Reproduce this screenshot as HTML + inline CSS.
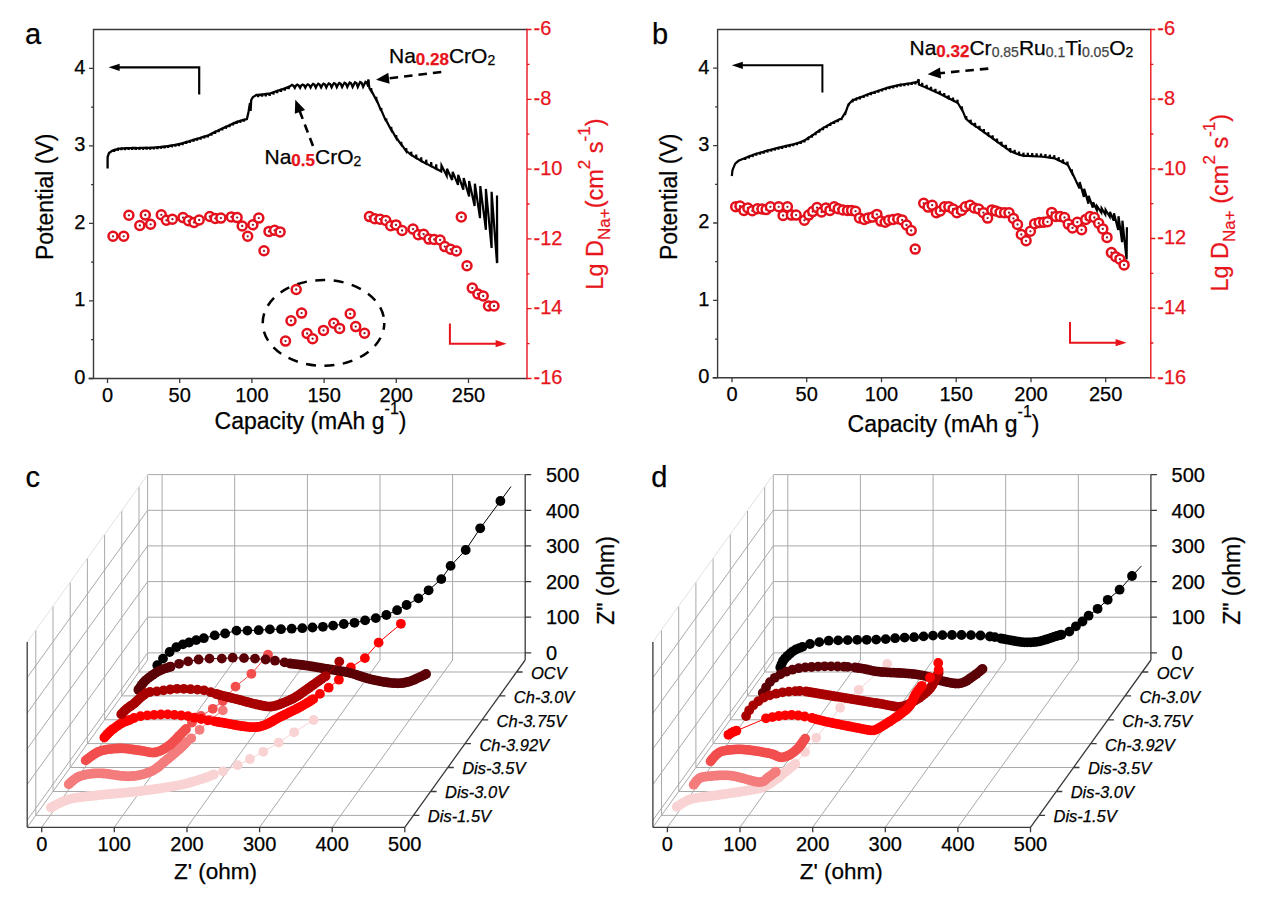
<!DOCTYPE html>
<html><head><meta charset="utf-8"><style>html,body{margin:0;padding:0;background:#fff;overflow:hidden}svg{display:block}text{stroke-width:0.25px}</style></head><body>
<svg width="1266" height="906" viewBox="0 0 1266 906" font-family="'Liberation Sans', sans-serif">
<rect width="1266" height="906" fill="#fff"/>
<path d="M92.8,29.5 H527 M93.5,29.5 V378.5 M88.5,378.5 H527" stroke="#3a3a3a" stroke-width="1.4" fill="none"/>
<path d="M527,28.8 V379.2" stroke="#e8141c" stroke-width="1.4"/>
<path d="M89,378.5 H93.5 M91,339.7 H93.5 M89,300.9 H93.5 M91,262.2 H93.5 M89,223.4 H93.5 M91,184.6 H93.5 M89,145.8 H93.5 M91,107.1 H93.5 M89,68.3 H93.5 " stroke="#3a3a3a" stroke-width="1.3"/>
<text x="85.3" y="383.9" text-anchor="end" font-size="20" stroke="#000">0</text>
<text x="85.3" y="306.3" text-anchor="end" font-size="20" stroke="#000">1</text>
<text x="85.3" y="228.8" text-anchor="end" font-size="20" stroke="#000">2</text>
<text x="85.3" y="151.2" text-anchor="end" font-size="20" stroke="#000">3</text>
<text x="85.3" y="73.7" text-anchor="end" font-size="20" stroke="#000">4</text>
<path d="M107.5,378.5 V383 M179.7,378.5 V383 M251.9,378.5 V383 M324.1,378.5 V383 M396.3,378.5 V383 M468.5,378.5 V383 " stroke="#3a3a3a" stroke-width="1.3"/>
<text x="107.5" y="401.5" text-anchor="middle" font-size="20" stroke="#000">0</text>
<text x="179.7" y="401.5" text-anchor="middle" font-size="20" stroke="#000">50</text>
<text x="251.9" y="401.5" text-anchor="middle" font-size="20" stroke="#000">100</text>
<text x="324.1" y="401.5" text-anchor="middle" font-size="20" stroke="#000">150</text>
<text x="396.3" y="401.5" text-anchor="middle" font-size="20" stroke="#000">200</text>
<text x="468.5" y="401.5" text-anchor="middle" font-size="20" stroke="#000">250</text>
<path d="M527,29.5 H531.5 M527,64.4 H529.5 M527,99.3 H531.5 M527,134.2 H529.5 M527,169.1 H531.5 M527,204 H529.5 M527,238.9 H531.5 M527,273.8 H529.5 M527,308.7 H531.5 M527,343.6 H529.5 M527,378.5 H531.5 " stroke="#e8141c" stroke-width="1.3"/>
<text x="533.5" y="35.2" font-size="20" fill="#e8141c" stroke="#e8141c">-6</text>
<text x="533.5" y="105" font-size="20" fill="#e8141c" stroke="#e8141c">-8</text>
<text x="533.5" y="174.8" font-size="20" fill="#e8141c" stroke="#e8141c">-10</text>
<text x="533.5" y="244.6" font-size="20" fill="#e8141c" stroke="#e8141c">-12</text>
<text x="533.5" y="314.4" font-size="20" fill="#e8141c" stroke="#e8141c">-14</text>
<text x="533.5" y="384.2" font-size="20" fill="#e8141c" stroke="#e8141c">-16</text>
<text x="25" y="43.6" font-size="29" stroke="#000">a</text>
<text transform="translate(53.3,196.8) rotate(-90)" text-anchor="middle" font-size="23" stroke="#000">Potential (V)</text>
<text x="310.5" y="428.7" text-anchor="middle" font-size="23" stroke="#000">Capacity (mAh g<tspan font-size="16" dy="-15">-1</tspan><tspan dy="15">)</tspan></text>
<text transform="translate(603,204.1) rotate(-90)" text-anchor="middle" font-size="23.5" fill="#e8141c" stroke="#e8141c">Lg D<tspan font-size="17" dy="7">Na+</tspan><tspan dy="-7">(cm</tspan><tspan font-size="17" dy="-13">2</tspan><tspan dy="13"> s</tspan><tspan font-size="17" dy="-13">-1</tspan><tspan dy="13">)</tspan></text>
<path d="M107.6,168.5 L107.6,157 L109,153 L112.6,150.6 L114,150.1 L114.2,151.9 L114.5,150.1 L117.6,148.9 L117.8,150.7 L118.1,148.9 L121.2,148.3 L121.4,150.1 L121.7,148.3 L124.8,148.2 L125,150 L125.3,148.2 L128.4,148.1 L128.6,149.9 L128.9,148.1 L132,148 L132.2,149.8 L132.5,148 L135.6,148 L135.8,149.8 L136.1,148 L139.2,147.9 L139.4,149.7 L139.7,147.9 L142.8,147.9 L143,149.7 L143.3,147.9 L146.4,147.8 L146.6,149.6 L146.9,147.8 L150,147.7 L150.2,149.5 L150.5,147.7 L153.6,147.6 L153.8,149.4 L154.1,147.6 L157.2,147.2 L157.4,149 L157.7,147.2 L160.8,146.9 L161,148.7 L161.3,146.9 L164.4,146.6 L164.6,148.4 L164.9,146.6 L168,146 L168.2,147.8 L168.5,146 L171.6,145.4 L171.8,147.2 L172.1,145.4 L175.2,144.8 L175.4,146.6 L175.7,144.8 L178.8,144.2 L179,146 L179.3,144.2 L182.4,143.2 L182.6,145 L182.9,143.2 L186,142.1 L186.2,143.9 L186.5,142.1 L189.6,141 L189.8,142.8 L190.1,141 L193.2,139.9 L193.4,141.7 L193.7,139.9 L196.8,138.8 L197,140.6 L197.3,138.8 L200.4,137.7 L200.6,139.5 L200.9,137.7 L204,136.6 L204.2,138.4 L204.5,136.6 L207.6,135.5 L207.8,137.3 L208.1,135.5 L211.2,133.8 L211.4,135.6 L211.7,133.8 L214.8,132 L215,133.8 L215.3,132 L218.4,130.3 L218.6,132.1 L218.9,130.3 L222,128.6 L222.2,130.4 L222.5,128.6 L225.6,126.9 L225.8,128.7 L226.1,126.9 L229.2,125.3 L229.4,127.1 L229.7,125.3 L232.8,123.6 L233,125.4 L233.3,123.6 L236.4,122.1 L236.6,123.9 L236.9,122.1 L240,120.9 L240.2,122.7 L240.5,120.9 L243.6,119.8 L243.8,121.6 L244.1,119.8 L246.9,119 L248.5,112 L250,103 L250.6,111 L251.2,100 L251.7,99.2 L253,97 L256.4,95 L258,94.9 L258.2,97.1 L258.5,94.9 L261.8,94.5 L262,96.7 L262.3,94.5 L265.6,94.1 L265.8,96.3 L266.1,94.1 L269.4,93.6 L269.6,95.8 L269.9,93.6 L273.2,92.3 L273.4,94.5 L273.7,92.3 L277,91 L277.2,93.2 L277.5,91 L280.8,89.7 L281,91.9 L281.3,89.7 L284.6,88.4 L284.8,90.6 L285.1,88.4 L288.4,87 L288.6,89.2 L288.9,87 L289.6,86.6 L290.6,85.9 L292,84.9 L293.4,85.6 L294.8,87.9 L295.8,85.8 L297.2,84.7 L298.6,85.4 L300.1,87.8 L301.1,85.7 L302.5,84.5 L303.9,85.2 L305.3,87.7 L306.3,85.6 L307.7,84.3 L309.1,85 L310.6,87.6 L311.6,85.6 L313,84 L314.4,84.7 L315.8,87.6 L316.8,85.5 L318.2,83.8 L319.6,84.5 L321.1,87.5 L322.1,85.4 L323.5,83.6 L324.9,84.3 L326.3,87.4 L327.3,85.3 L328.7,83.4 L330.1,84.1 L331.6,87.3 L332.6,85.2 L334,83.2 L335.4,83.9 L336.8,87.2 L337.8,85.1 L339.2,83 L340.6,83.7 L342.1,87.1 L343.1,85 L344.5,82.8 L345.9,83.5 L347.3,87 L348.3,84.9 L349.7,82.6 L351.1,83.3 L352.6,86.9 L353.6,84.9 L355,82.3 L356.4,83 L357.8,86.9 L358.8,84.8 L360.2,82.1 L361.6,82.8 L363.1,86.8 L364.1,84.7 L365.5,81.9 L366.9,82.6 L368.3,86.7 L368.3,79.6" fill="none" stroke="#000" stroke-width="2.3" stroke-linejoin="miter" stroke-linejoin="round"/>
<path d="M368.3,79.6 L369.4,88.2 L371,90.8 L371.2,88.2 L371.5,90.8 L376,99.5 L376.2,96.9 L376.5,99.5 L381,110.6 L381.2,108 L381.5,110.6 L386,121.1 L386.2,118.5 L386.5,121.1 L391,129.6 L391.2,127 L391.5,129.6 L396,137.8 L396.2,135.2 L396.5,137.8 L401,144.4 L401.2,141.8 L401.5,144.4 L406,151 L406.2,148.1 L406.5,151 L411,154.8 L411.2,151.7 L411.5,154.8 L416,158 L416.2,154.6 L416.5,158 L421,161 L421.2,157.4 L421.5,161 L426,163.6 L426.2,159.7 L426.5,163.6 L431,166.2 L431.2,162.1 L431.5,166.2 L436,168.8 L436.2,164.4 L436.5,168.8 L441.2,171.5 L441.5,165.5 L446.7,175.8 L447,168.7 L452.1,180 L452.7,171.9 L458,184.9 L458.2,174.8 L463.3,189.7 L463.7,178 L469.1,196.4 L469.1,180.9 L474.6,206.1 L474.9,183.7 L480,218.2 L480.3,186.1 L485.9,229.8 L485.9,188.9 L491.6,248 L491.6,191.8 L497,263.1 L497,195.4 L497.2,263.1" fill="none" stroke="#000" stroke-width="2.2" stroke-linejoin="miter" stroke-linejoin="round"/>
<text x="389" y="63.2" font-size="21" stroke="#000">Na<tspan font-weight="bold" fill="#e8141c" font-size="17" dy="2" stroke="#e8141c">0.28</tspan><tspan dy="-2">CrO</tspan><tspan font-size="14" dy="2">2</tspan></text>
<text x="264.5" y="163.8" font-size="21" stroke="#000">Na<tspan font-weight="bold" fill="#e8141c" font-size="17" dy="2" stroke="#e8141c">0.5</tspan><tspan dy="-2">CrO</tspan><tspan font-size="14" dy="2">2</tspan></text>
<path d="M441.3,72 L387.9,78.4" stroke="#000" stroke-width="2.6" stroke-dasharray="8.5,6" fill="none"/>
<path d="M376,79.8 L388.3,72.8 L389.6,83.7 Z" fill="#000"/>
<path d="M313,146 L299.6,110.9" stroke="#000" stroke-width="2.6" stroke-dasharray="8.5,6" fill="none"/>
<path d="M295.3,99.7 L305.1,109.9 L294.8,113.8 Z" fill="#000"/>
<path d="M199.2,94.5 V67.3 H116.6" stroke="#000" stroke-width="2.2" fill="none"/>
<path d="M108.6,67.3 L119.6,63.7 L119.6,70.9 Z" fill="#000"/>
<path d="M449.9,323.6 V343.7 H498.6" stroke="#e8141c" stroke-width="2.0" fill="none"/>
<path d="M506.6,343.7 L495.6,340.1 L495.6,347.3 Z" fill="#e8141c"/>
<ellipse cx="323.5" cy="322.9" rx="60.8" ry="42.9" fill="none" stroke="#000" stroke-width="2.5" stroke-dasharray="10,8.5" stroke-dashoffset="3"/>
<circle cx="113" cy="236.3" r="4.5" fill="#fff" stroke="#e4101c" stroke-width="2.5"/><circle cx="113" cy="236.3" r="1.15" fill="#8b1a2a"/>
<circle cx="123.7" cy="236.3" r="4.5" fill="#fff" stroke="#e4101c" stroke-width="2.5"/><circle cx="123.7" cy="236.3" r="1.15" fill="#8b1a2a"/>
<circle cx="128.9" cy="215.3" r="4.5" fill="#fff" stroke="#e4101c" stroke-width="2.5"/><circle cx="128.9" cy="215.3" r="1.15" fill="#8b1a2a"/>
<circle cx="139.8" cy="225.5" r="4.5" fill="#fff" stroke="#e4101c" stroke-width="2.5"/><circle cx="139.8" cy="225.5" r="1.15" fill="#8b1a2a"/>
<circle cx="145.3" cy="215" r="4.5" fill="#fff" stroke="#e4101c" stroke-width="2.5"/><circle cx="145.3" cy="215" r="1.15" fill="#8b1a2a"/>
<circle cx="150.6" cy="224.3" r="4.5" fill="#fff" stroke="#e4101c" stroke-width="2.5"/><circle cx="150.6" cy="224.3" r="1.15" fill="#8b1a2a"/>
<circle cx="161.3" cy="214.8" r="4.5" fill="#fff" stroke="#e4101c" stroke-width="2.5"/><circle cx="161.3" cy="214.8" r="1.15" fill="#8b1a2a"/>
<circle cx="166.4" cy="220.3" r="4.5" fill="#fff" stroke="#e4101c" stroke-width="2.5"/><circle cx="166.4" cy="220.3" r="1.15" fill="#8b1a2a"/>
<circle cx="172.4" cy="219.2" r="4.5" fill="#fff" stroke="#e4101c" stroke-width="2.5"/><circle cx="172.4" cy="219.2" r="1.15" fill="#8b1a2a"/>
<circle cx="183" cy="217.6" r="4.5" fill="#fff" stroke="#e4101c" stroke-width="2.5"/><circle cx="183" cy="217.6" r="1.15" fill="#8b1a2a"/>
<circle cx="188.5" cy="220.8" r="4.5" fill="#fff" stroke="#e4101c" stroke-width="2.5"/><circle cx="188.5" cy="220.8" r="1.15" fill="#8b1a2a"/>
<circle cx="194" cy="222.4" r="4.5" fill="#fff" stroke="#e4101c" stroke-width="2.5"/><circle cx="194" cy="222.4" r="1.15" fill="#8b1a2a"/>
<circle cx="199.2" cy="220" r="4.5" fill="#fff" stroke="#e4101c" stroke-width="2.5"/><circle cx="199.2" cy="220" r="1.15" fill="#8b1a2a"/>
<circle cx="209.8" cy="216.5" r="4.5" fill="#fff" stroke="#e4101c" stroke-width="2.5"/><circle cx="209.8" cy="216.5" r="1.15" fill="#8b1a2a"/>
<circle cx="215.3" cy="218.4" r="4.5" fill="#fff" stroke="#e4101c" stroke-width="2.5"/><circle cx="215.3" cy="218.4" r="1.15" fill="#8b1a2a"/>
<circle cx="220.9" cy="218.1" r="4.5" fill="#fff" stroke="#e4101c" stroke-width="2.5"/><circle cx="220.9" cy="218.1" r="1.15" fill="#8b1a2a"/>
<circle cx="231.4" cy="216.9" r="4.5" fill="#fff" stroke="#e4101c" stroke-width="2.5"/><circle cx="231.4" cy="216.9" r="1.15" fill="#8b1a2a"/>
<circle cx="237.1" cy="217.6" r="4.5" fill="#fff" stroke="#e4101c" stroke-width="2.5"/><circle cx="237.1" cy="217.6" r="1.15" fill="#8b1a2a"/>
<circle cx="242.2" cy="226" r="4.5" fill="#fff" stroke="#e4101c" stroke-width="2.5"/><circle cx="242.2" cy="226" r="1.15" fill="#8b1a2a"/>
<circle cx="247.7" cy="236.3" r="4.5" fill="#fff" stroke="#e4101c" stroke-width="2.5"/><circle cx="247.7" cy="236.3" r="1.15" fill="#8b1a2a"/>
<circle cx="252.9" cy="224.8" r="4.5" fill="#fff" stroke="#e4101c" stroke-width="2.5"/><circle cx="252.9" cy="224.8" r="1.15" fill="#8b1a2a"/>
<circle cx="258.8" cy="218.1" r="4.5" fill="#fff" stroke="#e4101c" stroke-width="2.5"/><circle cx="258.8" cy="218.1" r="1.15" fill="#8b1a2a"/>
<circle cx="264" cy="250.8" r="4.5" fill="#fff" stroke="#e4101c" stroke-width="2.5"/><circle cx="264" cy="250.8" r="1.15" fill="#8b1a2a"/>
<circle cx="269" cy="231.4" r="4.5" fill="#fff" stroke="#e4101c" stroke-width="2.5"/><circle cx="269" cy="231.4" r="1.15" fill="#8b1a2a"/>
<circle cx="274.6" cy="230.3" r="4.5" fill="#fff" stroke="#e4101c" stroke-width="2.5"/><circle cx="274.6" cy="230.3" r="1.15" fill="#8b1a2a"/>
<circle cx="280.1" cy="231.9" r="4.5" fill="#fff" stroke="#e4101c" stroke-width="2.5"/><circle cx="280.1" cy="231.9" r="1.15" fill="#8b1a2a"/>
<circle cx="285.5" cy="341.1" r="4.5" fill="#fff" stroke="#e4101c" stroke-width="2.5"/><circle cx="285.5" cy="341.1" r="1.15" fill="#8b1a2a"/>
<circle cx="291" cy="320.7" r="4.5" fill="#fff" stroke="#e4101c" stroke-width="2.5"/><circle cx="291" cy="320.7" r="1.15" fill="#8b1a2a"/>
<circle cx="296.2" cy="289.5" r="4.5" fill="#fff" stroke="#e4101c" stroke-width="2.5"/><circle cx="296.2" cy="289.5" r="1.15" fill="#8b1a2a"/>
<circle cx="301.6" cy="313.1" r="4.5" fill="#fff" stroke="#e4101c" stroke-width="2.5"/><circle cx="301.6" cy="313.1" r="1.15" fill="#8b1a2a"/>
<circle cx="307.1" cy="333.5" r="4.5" fill="#fff" stroke="#e4101c" stroke-width="2.5"/><circle cx="307.1" cy="333.5" r="1.15" fill="#8b1a2a"/>
<circle cx="312.6" cy="338.7" r="4.5" fill="#fff" stroke="#e4101c" stroke-width="2.5"/><circle cx="312.6" cy="338.7" r="1.15" fill="#8b1a2a"/>
<circle cx="323.5" cy="330.4" r="4.5" fill="#fff" stroke="#e4101c" stroke-width="2.5"/><circle cx="323.5" cy="330.4" r="1.15" fill="#8b1a2a"/>
<circle cx="333.8" cy="323.2" r="4.5" fill="#fff" stroke="#e4101c" stroke-width="2.5"/><circle cx="333.8" cy="323.2" r="1.15" fill="#8b1a2a"/>
<circle cx="339.6" cy="328.4" r="4.5" fill="#fff" stroke="#e4101c" stroke-width="2.5"/><circle cx="339.6" cy="328.4" r="1.15" fill="#8b1a2a"/>
<circle cx="350.2" cy="313.8" r="4.5" fill="#fff" stroke="#e4101c" stroke-width="2.5"/><circle cx="350.2" cy="313.8" r="1.15" fill="#8b1a2a"/>
<circle cx="355.7" cy="326.6" r="4.5" fill="#fff" stroke="#e4101c" stroke-width="2.5"/><circle cx="355.7" cy="326.6" r="1.15" fill="#8b1a2a"/>
<circle cx="364.5" cy="333.2" r="4.5" fill="#fff" stroke="#e4101c" stroke-width="2.5"/><circle cx="364.5" cy="333.2" r="1.15" fill="#8b1a2a"/>
<circle cx="369.5" cy="216.6" r="4.5" fill="#fff" stroke="#e4101c" stroke-width="2.5"/><circle cx="369.5" cy="216.6" r="1.15" fill="#8b1a2a"/>
<circle cx="374.8" cy="218.8" r="4.5" fill="#fff" stroke="#e4101c" stroke-width="2.5"/><circle cx="374.8" cy="218.8" r="1.15" fill="#8b1a2a"/>
<circle cx="380.1" cy="219.2" r="4.5" fill="#fff" stroke="#e4101c" stroke-width="2.5"/><circle cx="380.1" cy="219.2" r="1.15" fill="#8b1a2a"/>
<circle cx="385.8" cy="220.5" r="4.5" fill="#fff" stroke="#e4101c" stroke-width="2.5"/><circle cx="385.8" cy="220.5" r="1.15" fill="#8b1a2a"/>
<circle cx="390.7" cy="225.8" r="4.5" fill="#fff" stroke="#e4101c" stroke-width="2.5"/><circle cx="390.7" cy="225.8" r="1.15" fill="#8b1a2a"/>
<circle cx="396" cy="224.9" r="4.5" fill="#fff" stroke="#e4101c" stroke-width="2.5"/><circle cx="396" cy="224.9" r="1.15" fill="#8b1a2a"/>
<circle cx="402.1" cy="230.5" r="4.5" fill="#fff" stroke="#e4101c" stroke-width="2.5"/><circle cx="402.1" cy="230.5" r="1.15" fill="#8b1a2a"/>
<circle cx="413" cy="229.1" r="4.5" fill="#fff" stroke="#e4101c" stroke-width="2.5"/><circle cx="413" cy="229.1" r="1.15" fill="#8b1a2a"/>
<circle cx="418.3" cy="234.7" r="4.5" fill="#fff" stroke="#e4101c" stroke-width="2.5"/><circle cx="418.3" cy="234.7" r="1.15" fill="#8b1a2a"/>
<circle cx="423.6" cy="234.2" r="4.5" fill="#fff" stroke="#e4101c" stroke-width="2.5"/><circle cx="423.6" cy="234.2" r="1.15" fill="#8b1a2a"/>
<circle cx="428.9" cy="239.1" r="4.5" fill="#fff" stroke="#e4101c" stroke-width="2.5"/><circle cx="428.9" cy="239.1" r="1.15" fill="#8b1a2a"/>
<circle cx="434.2" cy="239.5" r="4.5" fill="#fff" stroke="#e4101c" stroke-width="2.5"/><circle cx="434.2" cy="239.5" r="1.15" fill="#8b1a2a"/>
<circle cx="440.1" cy="240" r="4.5" fill="#fff" stroke="#e4101c" stroke-width="2.5"/><circle cx="440.1" cy="240" r="1.15" fill="#8b1a2a"/>
<circle cx="444.8" cy="246.6" r="4.5" fill="#fff" stroke="#e4101c" stroke-width="2.5"/><circle cx="444.8" cy="246.6" r="1.15" fill="#8b1a2a"/>
<circle cx="450.7" cy="249.3" r="4.5" fill="#fff" stroke="#e4101c" stroke-width="2.5"/><circle cx="450.7" cy="249.3" r="1.15" fill="#8b1a2a"/>
<circle cx="456.4" cy="251" r="4.5" fill="#fff" stroke="#e4101c" stroke-width="2.5"/><circle cx="456.4" cy="251" r="1.15" fill="#8b1a2a"/>
<circle cx="461.3" cy="217" r="4.5" fill="#fff" stroke="#e4101c" stroke-width="2.5"/><circle cx="461.3" cy="217" r="1.15" fill="#8b1a2a"/>
<circle cx="467" cy="265.8" r="4.5" fill="#fff" stroke="#e4101c" stroke-width="2.5"/><circle cx="467" cy="265.8" r="1.15" fill="#8b1a2a"/>
<circle cx="472.3" cy="288.1" r="4.5" fill="#fff" stroke="#e4101c" stroke-width="2.5"/><circle cx="472.3" cy="288.1" r="1.15" fill="#8b1a2a"/>
<circle cx="477.9" cy="294" r="4.5" fill="#fff" stroke="#e4101c" stroke-width="2.5"/><circle cx="477.9" cy="294" r="1.15" fill="#8b1a2a"/>
<circle cx="483.2" cy="296" r="4.5" fill="#fff" stroke="#e4101c" stroke-width="2.5"/><circle cx="483.2" cy="296" r="1.15" fill="#8b1a2a"/>
<circle cx="488.5" cy="306" r="4.5" fill="#fff" stroke="#e4101c" stroke-width="2.5"/><circle cx="488.5" cy="306" r="1.15" fill="#8b1a2a"/>
<circle cx="494" cy="306" r="4.5" fill="#fff" stroke="#e4101c" stroke-width="2.5"/><circle cx="494" cy="306" r="1.15" fill="#8b1a2a"/>
<path d="M716.9,29.5 H1150.8 M717.6,29.5 V377.8 M712.6,377.8 H1150.8" stroke="#3a3a3a" stroke-width="1.4" fill="none"/>
<path d="M1150.8,28.8 V378.5" stroke="#e8141c" stroke-width="1.4"/>
<path d="M713.1,377.8 H717.6 M715.1,339.1 H717.6 M713.1,300.4 H717.6 M715.1,261.7 H717.6 M713.1,223 H717.6 M715.1,184.3 H717.6 M713.1,145.6 H717.6 M715.1,106.9 H717.6 M713.1,68.2 H717.6 " stroke="#3a3a3a" stroke-width="1.3"/>
<text x="709.4" y="383.2" text-anchor="end" font-size="20" stroke="#000">0</text>
<text x="709.4" y="305.8" text-anchor="end" font-size="20" stroke="#000">1</text>
<text x="709.4" y="228.4" text-anchor="end" font-size="20" stroke="#000">2</text>
<text x="709.4" y="151" text-anchor="end" font-size="20" stroke="#000">3</text>
<text x="709.4" y="73.6" text-anchor="end" font-size="20" stroke="#000">4</text>
<path d="M732,377.8 V382.3 M806.7,377.8 V382.3 M881.5,377.8 V382.3 M956.2,377.8 V382.3 M1031,377.8 V382.3 M1105.7,377.8 V382.3 " stroke="#3a3a3a" stroke-width="1.3"/>
<text x="732" y="401" text-anchor="middle" font-size="20" stroke="#000">0</text>
<text x="806.7" y="401" text-anchor="middle" font-size="20" stroke="#000">50</text>
<text x="881.5" y="401" text-anchor="middle" font-size="20" stroke="#000">100</text>
<text x="956.2" y="401" text-anchor="middle" font-size="20" stroke="#000">150</text>
<text x="1031" y="401" text-anchor="middle" font-size="20" stroke="#000">200</text>
<text x="1105.7" y="401" text-anchor="middle" font-size="20" stroke="#000">250</text>
<path d="M1150.8,29.5 H1155.3 M1150.8,64.3 H1153.3 M1150.8,99.2 H1155.3 M1150.8,134 H1153.3 M1150.8,168.8 H1155.3 M1150.8,203.6 H1153.3 M1150.8,238.5 H1155.3 M1150.8,273.3 H1153.3 M1150.8,308.1 H1155.3 M1150.8,343 H1153.3 M1150.8,377.8 H1155.3 " stroke="#e8141c" stroke-width="1.3"/>
<text x="1157.3" y="35.2" font-size="20" fill="#e8141c" stroke="#e8141c">-6</text>
<text x="1157.3" y="104.9" font-size="20" fill="#e8141c" stroke="#e8141c">-8</text>
<text x="1157.3" y="174.5" font-size="20" fill="#e8141c" stroke="#e8141c">-10</text>
<text x="1157.3" y="244.2" font-size="20" fill="#e8141c" stroke="#e8141c">-12</text>
<text x="1157.3" y="313.8" font-size="20" fill="#e8141c" stroke="#e8141c">-14</text>
<text x="1157.3" y="383.5" font-size="20" fill="#e8141c" stroke="#e8141c">-16</text>
<text x="652" y="43.6" font-size="29" stroke="#000">b</text>
<text transform="translate(677.3,196.8) rotate(-90)" text-anchor="middle" font-size="23" stroke="#000">Potential (V)</text>
<text x="943.5" y="432" text-anchor="middle" font-size="23" stroke="#000">Capacity (mAh g<tspan font-size="16" dy="-15">-1</tspan><tspan dy="15">)</tspan></text>
<text transform="translate(1228,202.7) rotate(-90)" text-anchor="middle" font-size="23.5" fill="#e8141c" stroke="#e8141c">Lg D<tspan font-size="17" dy="7">Na+</tspan><tspan dy="-7"> (cm</tspan><tspan font-size="17" dy="-13">2</tspan><tspan dy="13"> s</tspan><tspan font-size="17" dy="-13">-1</tspan><tspan dy="13">)</tspan></text>
<path d="M731.8,176 L732.5,170 L735.2,163.6 L738.5,160.8 L742.7,158.9 L745,158 L745.2,159.9 L745.5,158 L748.7,156.5 L748.9,158.4 L749.2,156.5 L752.4,155.1 L752.6,157 L752.9,155.1 L756.1,153.8 L756.3,155.7 L756.6,153.8 L759.8,152.7 L760,154.6 L760.3,152.7 L763.5,151.7 L763.7,153.6 L764,151.7 L767.2,150.6 L767.4,152.5 L767.7,150.6 L770.9,149.6 L771.1,151.5 L771.4,149.6 L774.6,148.6 L774.8,150.5 L775.1,148.6 L778.3,147.7 L778.5,149.6 L778.8,147.7 L782,146.9 L782.2,148.8 L782.5,146.9 L785.7,146 L785.9,147.9 L786.2,146 L789.4,145.2 L789.6,147.1 L789.9,145.2 L793.1,144.3 L793.3,146.2 L793.6,144.3 L796.8,143.3 L797,145.2 L797.3,143.3 L800.5,142 L800.7,143.9 L801,142 L804.2,140.4 L804.4,142.3 L804.7,140.4 L807.9,138.1 L808.1,140 L808.4,138.1 L811.6,135.8 L811.8,137.7 L812.1,135.8 L815.3,133.2 L815.5,135.1 L815.8,133.2 L819,130.6 L819.2,132.5 L819.5,130.6 L822.7,128.2 L822.9,130.1 L823.2,128.2 L826.4,126.1 L826.6,128 L826.9,126.1 L830.1,123.9 L830.3,125.8 L830.6,123.9 L833.8,122 L834,123.9 L834.3,122 L837.5,120.2 L837.7,122.1 L838,120.2 L841.2,118.3 L841.4,120.2 L841.7,118.3 L844.9,113.1 L845.1,115 L845.4,113.1 L848.6,103.8 L848.8,105.7 L849.1,103.8 L852.3,100.4 L852.5,102.3 L852.8,100.4 L856,98.8 L856.2,100.7 L856.5,98.8 L859.7,97.4 L859.9,99.3 L860.2,97.4 L863.4,96 L863.6,97.9 L863.9,96 L867.1,94.6 L867.3,96.5 L867.6,94.6 L870.8,93.2 L871,95.1 L871.3,93.2 L874.5,92 L874.7,93.9 L875,92 L878.2,90.7 L878.4,92.6 L878.7,90.7 L881.9,89.5 L882.1,91.4 L882.4,89.5 L885.6,88.2 L885.8,90.1 L886.1,88.2 L889.3,87.2 L889.5,89.1 L889.8,87.2 L893,86.4 L893.2,88.3 L893.5,86.4 L896.7,85.5 L896.9,87.4 L897.2,85.5 L900.4,84.7 L900.6,86.6 L900.9,84.7 L904.1,84.2 L904.3,86.1 L904.6,84.2 L907.8,83.6 L908,85.5 L908.3,83.6 L911.5,83 L911.7,84.9 L912,83 L915.2,82.4 L915.4,84.3 L915.7,82.4 L917.2,82.1 L918.7,79.2" fill="none" stroke="#000" stroke-width="2.2" stroke-linejoin="miter" stroke-linejoin="round"/>
<path d="M918.7,79.2 L918.9,84.5 L922,85.9 L922.2,82.9 L922.5,85.9 L926.4,87.8 L926.6,84.8 L926.9,87.8 L930.8,89.8 L931,86.8 L931.3,89.8 L935.2,91.8 L935.4,88.8 L935.7,91.8 L939.6,93.8 L939.8,90.8 L940.1,93.8 L944,96 L944.2,93 L944.5,96 L948.4,98.3 L948.6,95.3 L948.9,98.3 L952.8,100.5 L953,97.5 L953.3,100.5 L957.2,102.7 L957.4,99.7 L957.7,102.7 L961.6,109.3 L961.8,106.3 L962.1,109.3 L966,119.2 L966.2,116.2 L966.5,119.2 L970.4,122.7 L970.6,119.7 L970.9,122.7 L974.8,125.8 L975,122.8 L975.3,125.8 L979.2,128.9 L979.4,125.9 L979.7,128.9 L983.6,132 L983.8,129 L984.1,132 L988,135.2 L988.2,132.2 L988.5,135.2 L992.4,138.4 L992.6,135.4 L992.9,138.4 L996.8,141.5 L997,138.5 L997.3,141.5 L1001.2,144.7 L1001.4,141.7 L1001.7,144.7 L1005.6,147.9 L1005.8,144.9 L1006.1,147.9 L1010,151.1 L1010.2,148.1 L1010.5,151.1 L1014.4,152.9 L1014.6,149.9 L1014.9,152.9 L1018.8,154.6 L1019,151.6 L1019.3,154.6 L1023.2,155.7 L1023.4,152.7 L1023.7,155.7 L1027.6,155.9 L1027.8,152.9 L1028.1,155.9 L1032,156.1 L1032.2,153.1 L1032.5,156.1 L1036.4,156.3 L1036.6,153.3 L1036.9,156.3 L1040.8,156.6 L1041,153.6 L1041.3,156.6 L1045.2,157.1 L1045.4,154.1 L1045.7,157.1 L1049.6,157.7 L1049.8,154.7 L1050.1,157.7 L1054,158.2 L1054.2,155.2 L1054.5,158.2 L1058.4,160.2 L1058.6,157.2 L1058.9,160.2 L1062.8,162.4 L1063,159.4 L1063.3,162.4 L1067.2,164.6 L1067.4,161.6 L1067.7,164.6 L1071.6,172.4 L1071.8,169.4 L1072.1,172.4 L1079.4,188.4 L1079.7,182 L1083.9,196.9 L1084.2,188.9 L1088.4,203.6 L1088.7,195.9 L1092.8,207.6 L1093.1,202.3 L1096.8,210 L1097.1,206.3 L1101.3,212.5 L1101.6,208.3 L1105.3,214.5 L1105.6,209.8 L1109.7,216.7 L1110,211.8 L1113.7,220.7 L1114,213.3 L1118.2,230 L1118.5,216.2 L1122.1,242.2 L1122.4,220.7 L1126.6,259.4 L1126.9,227.2 L1126.6,259.4" fill="none" stroke="#000" stroke-width="2.2" stroke-linejoin="miter" stroke-linejoin="round"/>
<text x="909.5" y="55.4" font-size="21" stroke="#000">Na<tspan font-weight="bold" fill="#e8141c" font-size="17" dy="2" stroke="#e8141c">0.32</tspan><tspan dy="-2">Cr</tspan><tspan font-size="14" dy="2" fill="#444" stroke="#444">0.85</tspan><tspan dy="-2">Ru</tspan><tspan font-size="14" dy="2" fill="#444" stroke="#444">0.1</tspan><tspan dy="-2">Ti</tspan><tspan font-size="14" dy="2" fill="#444" stroke="#444">0.05</tspan><tspan dy="-2">O</tspan><tspan font-size="14" dy="2">2</tspan></text>
<path d="M988.3,68.6 L939.5,73.2" stroke="#000" stroke-width="2.6" stroke-dasharray="8.5,6" fill="none"/>
<path d="M927.6,74.3 L940,67.6 L941.1,78.6 Z" fill="#000"/>
<path d="M822.4,92.6 V65.3 H739.8" stroke="#000" stroke-width="2.0" fill="none"/>
<path d="M731.8,65.3 L742.8,61.7 L742.8,68.9 Z" fill="#000"/>
<path d="M1070,322.1 V342.7 H1118.6" stroke="#e8141c" stroke-width="2.0" fill="none"/>
<path d="M1126.6,342.7 L1115.6,339.1 L1115.6,346.3 Z" fill="#e8141c"/>
<circle cx="735.7" cy="206.8" r="4.5" fill="#fff" stroke="#e4101c" stroke-width="2.5"/><circle cx="735.7" cy="206.8" r="1.15" fill="#8b1a2a"/>
<circle cx="740" cy="206.1" r="4.5" fill="#fff" stroke="#e4101c" stroke-width="2.5"/><circle cx="740" cy="206.1" r="1.15" fill="#8b1a2a"/>
<circle cx="744" cy="210.4" r="4.5" fill="#fff" stroke="#e4101c" stroke-width="2.5"/><circle cx="744" cy="210.4" r="1.15" fill="#8b1a2a"/>
<circle cx="747.9" cy="208" r="4.5" fill="#fff" stroke="#e4101c" stroke-width="2.5"/><circle cx="747.9" cy="208" r="1.15" fill="#8b1a2a"/>
<circle cx="752.3" cy="210.8" r="4.5" fill="#fff" stroke="#e4101c" stroke-width="2.5"/><circle cx="752.3" cy="210.8" r="1.15" fill="#8b1a2a"/>
<circle cx="757.4" cy="208.8" r="4.5" fill="#fff" stroke="#e4101c" stroke-width="2.5"/><circle cx="757.4" cy="208.8" r="1.15" fill="#8b1a2a"/>
<circle cx="762" cy="209" r="4.5" fill="#fff" stroke="#e4101c" stroke-width="2.5"/><circle cx="762" cy="209" r="1.15" fill="#8b1a2a"/>
<circle cx="766.1" cy="209.6" r="4.5" fill="#fff" stroke="#e4101c" stroke-width="2.5"/><circle cx="766.1" cy="209.6" r="1.15" fill="#8b1a2a"/>
<circle cx="770.4" cy="206.8" r="4.5" fill="#fff" stroke="#e4101c" stroke-width="2.5"/><circle cx="770.4" cy="206.8" r="1.15" fill="#8b1a2a"/>
<circle cx="778.7" cy="206.8" r="4.5" fill="#fff" stroke="#e4101c" stroke-width="2.5"/><circle cx="778.7" cy="206.8" r="1.15" fill="#8b1a2a"/>
<circle cx="783.1" cy="215.5" r="4.5" fill="#fff" stroke="#e4101c" stroke-width="2.5"/><circle cx="783.1" cy="215.5" r="1.15" fill="#8b1a2a"/>
<circle cx="787.4" cy="206.8" r="4.5" fill="#fff" stroke="#e4101c" stroke-width="2.5"/><circle cx="787.4" cy="206.8" r="1.15" fill="#8b1a2a"/>
<circle cx="791.4" cy="215.1" r="4.5" fill="#fff" stroke="#e4101c" stroke-width="2.5"/><circle cx="791.4" cy="215.1" r="1.15" fill="#8b1a2a"/>
<circle cx="796.1" cy="215.1" r="4.5" fill="#fff" stroke="#e4101c" stroke-width="2.5"/><circle cx="796.1" cy="215.1" r="1.15" fill="#8b1a2a"/>
<circle cx="804.4" cy="220.3" r="4.5" fill="#fff" stroke="#e4101c" stroke-width="2.5"/><circle cx="804.4" cy="220.3" r="1.15" fill="#8b1a2a"/>
<circle cx="808.7" cy="215.1" r="4.5" fill="#fff" stroke="#e4101c" stroke-width="2.5"/><circle cx="808.7" cy="215.1" r="1.15" fill="#8b1a2a"/>
<circle cx="812.7" cy="211.6" r="4.5" fill="#fff" stroke="#e4101c" stroke-width="2.5"/><circle cx="812.7" cy="211.6" r="1.15" fill="#8b1a2a"/>
<circle cx="817" cy="207.6" r="4.5" fill="#fff" stroke="#e4101c" stroke-width="2.5"/><circle cx="817" cy="207.6" r="1.15" fill="#8b1a2a"/>
<circle cx="821.6" cy="212" r="4.5" fill="#fff" stroke="#e4101c" stroke-width="2.5"/><circle cx="821.6" cy="212" r="1.15" fill="#8b1a2a"/>
<circle cx="825.9" cy="208" r="4.5" fill="#fff" stroke="#e4101c" stroke-width="2.5"/><circle cx="825.9" cy="208" r="1.15" fill="#8b1a2a"/>
<circle cx="829.9" cy="210.4" r="4.5" fill="#fff" stroke="#e4101c" stroke-width="2.5"/><circle cx="829.9" cy="210.4" r="1.15" fill="#8b1a2a"/>
<circle cx="834.2" cy="206.8" r="4.5" fill="#fff" stroke="#e4101c" stroke-width="2.5"/><circle cx="834.2" cy="206.8" r="1.15" fill="#8b1a2a"/>
<circle cx="838.2" cy="208.8" r="4.5" fill="#fff" stroke="#e4101c" stroke-width="2.5"/><circle cx="838.2" cy="208.8" r="1.15" fill="#8b1a2a"/>
<circle cx="842.9" cy="210" r="4.5" fill="#fff" stroke="#e4101c" stroke-width="2.5"/><circle cx="842.9" cy="210" r="1.15" fill="#8b1a2a"/>
<circle cx="847.6" cy="210.4" r="4.5" fill="#fff" stroke="#e4101c" stroke-width="2.5"/><circle cx="847.6" cy="210.4" r="1.15" fill="#8b1a2a"/>
<circle cx="851.6" cy="210.4" r="4.5" fill="#fff" stroke="#e4101c" stroke-width="2.5"/><circle cx="851.6" cy="210.4" r="1.15" fill="#8b1a2a"/>
<circle cx="855.5" cy="211.2" r="4.5" fill="#fff" stroke="#e4101c" stroke-width="2.5"/><circle cx="855.5" cy="211.2" r="1.15" fill="#8b1a2a"/>
<circle cx="859.5" cy="217.9" r="4.5" fill="#fff" stroke="#e4101c" stroke-width="2.5"/><circle cx="859.5" cy="217.9" r="1.15" fill="#8b1a2a"/>
<circle cx="864.2" cy="219.5" r="4.5" fill="#fff" stroke="#e4101c" stroke-width="2.5"/><circle cx="864.2" cy="219.5" r="1.15" fill="#8b1a2a"/>
<circle cx="868.2" cy="217.9" r="4.5" fill="#fff" stroke="#e4101c" stroke-width="2.5"/><circle cx="868.2" cy="217.9" r="1.15" fill="#8b1a2a"/>
<circle cx="872.5" cy="217.1" r="4.5" fill="#fff" stroke="#e4101c" stroke-width="2.5"/><circle cx="872.5" cy="217.1" r="1.15" fill="#8b1a2a"/>
<circle cx="876.9" cy="214.4" r="4.5" fill="#fff" stroke="#e4101c" stroke-width="2.5"/><circle cx="876.9" cy="214.4" r="1.15" fill="#8b1a2a"/>
<circle cx="880.8" cy="221.1" r="4.5" fill="#fff" stroke="#e4101c" stroke-width="2.5"/><circle cx="880.8" cy="221.1" r="1.15" fill="#8b1a2a"/>
<circle cx="885.2" cy="222.3" r="4.5" fill="#fff" stroke="#e4101c" stroke-width="2.5"/><circle cx="885.2" cy="222.3" r="1.15" fill="#8b1a2a"/>
<circle cx="888.7" cy="220.3" r="4.5" fill="#fff" stroke="#e4101c" stroke-width="2.5"/><circle cx="888.7" cy="220.3" r="1.15" fill="#8b1a2a"/>
<circle cx="893.1" cy="219.5" r="4.5" fill="#fff" stroke="#e4101c" stroke-width="2.5"/><circle cx="893.1" cy="219.5" r="1.15" fill="#8b1a2a"/>
<circle cx="897.8" cy="218.7" r="4.5" fill="#fff" stroke="#e4101c" stroke-width="2.5"/><circle cx="897.8" cy="218.7" r="1.15" fill="#8b1a2a"/>
<circle cx="902.1" cy="219.9" r="4.5" fill="#fff" stroke="#e4101c" stroke-width="2.5"/><circle cx="902.1" cy="219.9" r="1.15" fill="#8b1a2a"/>
<circle cx="906.5" cy="225" r="4.5" fill="#fff" stroke="#e4101c" stroke-width="2.5"/><circle cx="906.5" cy="225" r="1.15" fill="#8b1a2a"/>
<circle cx="911.2" cy="230.5" r="4.5" fill="#fff" stroke="#e4101c" stroke-width="2.5"/><circle cx="911.2" cy="230.5" r="1.15" fill="#8b1a2a"/>
<circle cx="915.2" cy="249.1" r="4.5" fill="#fff" stroke="#e4101c" stroke-width="2.5"/><circle cx="915.2" cy="249.1" r="1.15" fill="#8b1a2a"/>
<circle cx="923.7" cy="203.3" r="4.5" fill="#fff" stroke="#e4101c" stroke-width="2.5"/><circle cx="923.7" cy="203.3" r="1.15" fill="#8b1a2a"/>
<circle cx="928.1" cy="207.1" r="4.5" fill="#fff" stroke="#e4101c" stroke-width="2.5"/><circle cx="928.1" cy="207.1" r="1.15" fill="#8b1a2a"/>
<circle cx="932.2" cy="205.2" r="4.5" fill="#fff" stroke="#e4101c" stroke-width="2.5"/><circle cx="932.2" cy="205.2" r="1.15" fill="#8b1a2a"/>
<circle cx="936.4" cy="212.7" r="4.5" fill="#fff" stroke="#e4101c" stroke-width="2.5"/><circle cx="936.4" cy="212.7" r="1.15" fill="#8b1a2a"/>
<circle cx="940.2" cy="210.9" r="4.5" fill="#fff" stroke="#e4101c" stroke-width="2.5"/><circle cx="940.2" cy="210.9" r="1.15" fill="#8b1a2a"/>
<circle cx="944.5" cy="206.7" r="4.5" fill="#fff" stroke="#e4101c" stroke-width="2.5"/><circle cx="944.5" cy="206.7" r="1.15" fill="#8b1a2a"/>
<circle cx="948.9" cy="206.7" r="4.5" fill="#fff" stroke="#e4101c" stroke-width="2.5"/><circle cx="948.9" cy="206.7" r="1.15" fill="#8b1a2a"/>
<circle cx="953.1" cy="209" r="4.5" fill="#fff" stroke="#e4101c" stroke-width="2.5"/><circle cx="953.1" cy="209" r="1.15" fill="#8b1a2a"/>
<circle cx="956.9" cy="212.7" r="4.5" fill="#fff" stroke="#e4101c" stroke-width="2.5"/><circle cx="956.9" cy="212.7" r="1.15" fill="#8b1a2a"/>
<circle cx="961.6" cy="210.5" r="4.5" fill="#fff" stroke="#e4101c" stroke-width="2.5"/><circle cx="961.6" cy="210.5" r="1.15" fill="#8b1a2a"/>
<circle cx="965.4" cy="206.7" r="4.5" fill="#fff" stroke="#e4101c" stroke-width="2.5"/><circle cx="965.4" cy="206.7" r="1.15" fill="#8b1a2a"/>
<circle cx="970.1" cy="205.2" r="4.5" fill="#fff" stroke="#e4101c" stroke-width="2.5"/><circle cx="970.1" cy="205.2" r="1.15" fill="#8b1a2a"/>
<circle cx="974.3" cy="208" r="4.5" fill="#fff" stroke="#e4101c" stroke-width="2.5"/><circle cx="974.3" cy="208" r="1.15" fill="#8b1a2a"/>
<circle cx="978.7" cy="209" r="4.5" fill="#fff" stroke="#e4101c" stroke-width="2.5"/><circle cx="978.7" cy="209" r="1.15" fill="#8b1a2a"/>
<circle cx="983.4" cy="212.7" r="4.5" fill="#fff" stroke="#e4101c" stroke-width="2.5"/><circle cx="983.4" cy="212.7" r="1.15" fill="#8b1a2a"/>
<circle cx="987.6" cy="218.1" r="4.5" fill="#fff" stroke="#e4101c" stroke-width="2.5"/><circle cx="987.6" cy="218.1" r="1.15" fill="#8b1a2a"/>
<circle cx="991.9" cy="209.9" r="4.5" fill="#fff" stroke="#e4101c" stroke-width="2.5"/><circle cx="991.9" cy="209.9" r="1.15" fill="#8b1a2a"/>
<circle cx="995.7" cy="210.9" r="4.5" fill="#fff" stroke="#e4101c" stroke-width="2.5"/><circle cx="995.7" cy="210.9" r="1.15" fill="#8b1a2a"/>
<circle cx="1000.1" cy="212.4" r="4.5" fill="#fff" stroke="#e4101c" stroke-width="2.5"/><circle cx="1000.1" cy="212.4" r="1.15" fill="#8b1a2a"/>
<circle cx="1004.6" cy="212.7" r="4.5" fill="#fff" stroke="#e4101c" stroke-width="2.5"/><circle cx="1004.6" cy="212.7" r="1.15" fill="#8b1a2a"/>
<circle cx="1009" cy="212.7" r="4.5" fill="#fff" stroke="#e4101c" stroke-width="2.5"/><circle cx="1009" cy="212.7" r="1.15" fill="#8b1a2a"/>
<circle cx="1013.4" cy="218.4" r="4.5" fill="#fff" stroke="#e4101c" stroke-width="2.5"/><circle cx="1013.4" cy="218.4" r="1.15" fill="#8b1a2a"/>
<circle cx="1017.5" cy="224.5" r="4.5" fill="#fff" stroke="#e4101c" stroke-width="2.5"/><circle cx="1017.5" cy="224.5" r="1.15" fill="#8b1a2a"/>
<circle cx="1021.3" cy="234.5" r="4.5" fill="#fff" stroke="#e4101c" stroke-width="2.5"/><circle cx="1021.3" cy="234.5" r="1.15" fill="#8b1a2a"/>
<circle cx="1026.1" cy="240.8" r="4.5" fill="#fff" stroke="#e4101c" stroke-width="2.5"/><circle cx="1026.1" cy="240.8" r="1.15" fill="#8b1a2a"/>
<circle cx="1030.4" cy="231.3" r="4.5" fill="#fff" stroke="#e4101c" stroke-width="2.5"/><circle cx="1030.4" cy="231.3" r="1.15" fill="#8b1a2a"/>
<circle cx="1034.6" cy="223.7" r="4.5" fill="#fff" stroke="#e4101c" stroke-width="2.5"/><circle cx="1034.6" cy="223.7" r="1.15" fill="#8b1a2a"/>
<circle cx="1039.3" cy="222.6" r="4.5" fill="#fff" stroke="#e4101c" stroke-width="2.5"/><circle cx="1039.3" cy="222.6" r="1.15" fill="#8b1a2a"/>
<circle cx="1043.7" cy="222.2" r="4.5" fill="#fff" stroke="#e4101c" stroke-width="2.5"/><circle cx="1043.7" cy="222.2" r="1.15" fill="#8b1a2a"/>
<circle cx="1047.5" cy="221.8" r="4.5" fill="#fff" stroke="#e4101c" stroke-width="2.5"/><circle cx="1047.5" cy="221.8" r="1.15" fill="#8b1a2a"/>
<circle cx="1051.7" cy="212.4" r="4.5" fill="#fff" stroke="#e4101c" stroke-width="2.5"/><circle cx="1051.7" cy="212.4" r="1.15" fill="#8b1a2a"/>
<circle cx="1055.8" cy="216.5" r="4.5" fill="#fff" stroke="#e4101c" stroke-width="2.5"/><circle cx="1055.8" cy="216.5" r="1.15" fill="#8b1a2a"/>
<circle cx="1060.2" cy="216.5" r="4.5" fill="#fff" stroke="#e4101c" stroke-width="2.5"/><circle cx="1060.2" cy="216.5" r="1.15" fill="#8b1a2a"/>
<circle cx="1064.5" cy="217.5" r="4.5" fill="#fff" stroke="#e4101c" stroke-width="2.5"/><circle cx="1064.5" cy="217.5" r="1.15" fill="#8b1a2a"/>
<circle cx="1068.3" cy="224.1" r="4.5" fill="#fff" stroke="#e4101c" stroke-width="2.5"/><circle cx="1068.3" cy="224.1" r="1.15" fill="#8b1a2a"/>
<circle cx="1072.5" cy="227.9" r="4.5" fill="#fff" stroke="#e4101c" stroke-width="2.5"/><circle cx="1072.5" cy="227.9" r="1.15" fill="#8b1a2a"/>
<circle cx="1077.3" cy="222.2" r="4.5" fill="#fff" stroke="#e4101c" stroke-width="2.5"/><circle cx="1077.3" cy="222.2" r="1.15" fill="#8b1a2a"/>
<circle cx="1081.6" cy="229.8" r="4.5" fill="#fff" stroke="#e4101c" stroke-width="2.5"/><circle cx="1081.6" cy="229.8" r="1.15" fill="#8b1a2a"/>
<circle cx="1085.8" cy="219.4" r="4.5" fill="#fff" stroke="#e4101c" stroke-width="2.5"/><circle cx="1085.8" cy="219.4" r="1.15" fill="#8b1a2a"/>
<circle cx="1090" cy="216.5" r="4.5" fill="#fff" stroke="#e4101c" stroke-width="2.5"/><circle cx="1090" cy="216.5" r="1.15" fill="#8b1a2a"/>
<circle cx="1094.3" cy="217.5" r="4.5" fill="#fff" stroke="#e4101c" stroke-width="2.5"/><circle cx="1094.3" cy="217.5" r="1.15" fill="#8b1a2a"/>
<circle cx="1098.7" cy="223.2" r="4.5" fill="#fff" stroke="#e4101c" stroke-width="2.5"/><circle cx="1098.7" cy="223.2" r="1.15" fill="#8b1a2a"/>
<circle cx="1102.8" cy="228.9" r="4.5" fill="#fff" stroke="#e4101c" stroke-width="2.5"/><circle cx="1102.8" cy="228.9" r="1.15" fill="#8b1a2a"/>
<circle cx="1107" cy="237.4" r="4.5" fill="#fff" stroke="#e4101c" stroke-width="2.5"/><circle cx="1107" cy="237.4" r="1.15" fill="#8b1a2a"/>
<circle cx="1111.4" cy="252.6" r="4.5" fill="#fff" stroke="#e4101c" stroke-width="2.5"/><circle cx="1111.4" cy="252.6" r="1.15" fill="#8b1a2a"/>
<circle cx="1115.7" cy="256.7" r="4.5" fill="#fff" stroke="#e4101c" stroke-width="2.5"/><circle cx="1115.7" cy="256.7" r="1.15" fill="#8b1a2a"/>
<circle cx="1119.9" cy="259.2" r="4.5" fill="#fff" stroke="#e4101c" stroke-width="2.5"/><circle cx="1119.9" cy="259.2" r="1.15" fill="#8b1a2a"/>
<circle cx="1124.1" cy="264.9" r="4.5" fill="#fff" stroke="#e4101c" stroke-width="2.5"/><circle cx="1124.1" cy="264.9" r="1.15" fill="#8b1a2a"/>
<path d="M147.6,660 V474.6 M162.1,660 V474.6 M234.7,660 V474.6 M307.4,660 V474.6 M380,660 V474.6 M452.6,660 V474.6 M147.6,652.9 H525.2 M147.6,617.2 H525.2 M147.6,581.6 H525.2 M147.6,545.9 H525.2 M147.6,510.3 H525.2 M147.6,474.6 H525.2 M139,672 H516.6 M121.8,695.9 H499.4 M104.6,719.8 H482.2 M87.4,743.6 H465 M70.2,767.5 H447.8 M53,791.5 H430.6 M35.8,815.4 H413.4 M147.6,660 L27.2,827.3 M162.1,660 L41.7,827.3 M234.7,660 L114.3,827.3 M307.4,660 L187,827.3 M380,660 L259.6,827.3 M452.6,660 L332.2,827.3 M139,672 V486.6 M121.8,695.9 V510.5 M104.6,719.8 V534.4 M87.4,743.6 V558.3 M70.2,767.5 V582.2 M53,791.5 V606.1 M35.8,815.4 V630 M147.6,652.9 L27.2,820.2 M147.6,617.2 L27.2,784.5 M147.6,581.6 L27.2,748.9 M147.6,545.9 L27.2,713.2 M147.6,510.3 L27.2,677.6 " stroke="#a9a9a9" stroke-width="1" fill="none"/>
<path d="M147.6,474.6 L27.2,641.9" stroke="#e2e2e2" stroke-width="1" fill="none"/>
<path d="M525.2,660 V474.6 M525.2,660 L404.8,827.3 M27.2,827.3 H404.8 M27.2,827.3 V641.9 M525.2,652.9 H531.2 M525.2,617.2 H531.2 M525.2,581.6 H531.2 M525.2,545.9 H531.2 M525.2,510.3 H531.2 M525.2,474.6 H531.2 M516.6,672 H522.6 M499.4,695.9 H505.4 M482.2,719.8 H488.2 M465,743.6 H471 M447.8,767.5 H453.8 M430.6,791.5 H436.6 M413.4,815.4 H419.4 M41.7,827.3 V832.3 M114.3,827.3 V832.3 M187,827.3 V832.3 M259.6,827.3 V832.3 M332.2,827.3 V832.3 M404.8,827.3 V832.3 " stroke="#3a3a3a" stroke-width="1.3" fill="none"/>
<text x="545.9" y="660.1" font-size="20" stroke="#000">0</text>
<text x="545.9" y="624.4" font-size="20" stroke="#000">100</text>
<text x="545.9" y="588.8" font-size="20" stroke="#000">200</text>
<text x="545.9" y="553.1" font-size="20" stroke="#000">300</text>
<text x="545.9" y="517.5" font-size="20" stroke="#000">400</text>
<text x="545.9" y="481.8" font-size="20" stroke="#000">500</text>
<text x="531" y="678.9" font-size="16.5" font-style="italic" stroke="#000">OCV</text>
<text x="513.8" y="702.8" font-size="16.5" font-style="italic" stroke="#000">Ch-3.0V</text>
<text x="496.6" y="726.6" font-size="16.5" font-style="italic" stroke="#000">Ch-3.75V</text>
<text x="479.4" y="750.5" font-size="16.5" font-style="italic" stroke="#000">Ch-3.92V</text>
<text x="462.2" y="774.4" font-size="16.5" font-style="italic" stroke="#000">Dis-3.5V</text>
<text x="445" y="798.4" font-size="16.5" font-style="italic" stroke="#000">Dis-3.0V</text>
<text x="427.8" y="822.2" font-size="16.5" font-style="italic" stroke="#000">Dis-1.5V</text>
<text x="41.7" y="851" font-size="20" text-anchor="middle" stroke="#000">0</text>
<text x="114.3" y="851" font-size="20" text-anchor="middle" stroke="#000">100</text>
<text x="187" y="851" font-size="20" text-anchor="middle" stroke="#000">200</text>
<text x="259.6" y="851" font-size="20" text-anchor="middle" stroke="#000">300</text>
<text x="332.2" y="851" font-size="20" text-anchor="middle" stroke="#000">400</text>
<text x="404.8" y="851" font-size="20" text-anchor="middle" stroke="#000">500</text>
<text x="215.6" y="878.5" font-size="22.5" text-anchor="middle" stroke="#000">Z' (ohm)</text>
<text transform="translate(614,580.5) rotate(-90)" font-size="23" text-anchor="middle" stroke="#000">Z" (ohm)</text>
<text x="25.5" y="487.3" font-size="29" stroke="#000">c</text>
<path d="M157.3,665.2 L163,658.6 L169.6,652 L176.3,647.2 L182.9,644.4 L189.1,642.5 L196.2,640.1 L203.8,638.2 L214.7,635.4 L225.1,633.5 L236.5,630.6 L247.4,630.6 L258.7,630.2 L269.9,629.4 L281,629.2 L291.7,628.7 L302.3,628.2 L312.5,627.5 L322.9,626.8 L333.1,625.6 L343.8,624 L354.5,622.8 L365.1,620.4 L375.8,618.1 L386.4,615 L397.1,610.2 L406.6,605 L418.4,598.4 L428.6,590.3 L441.3,579.1 L450.6,565.9 L465.7,550 L480.2,528.3 L500.4,501 L511,486.5" fill="none" stroke="#000000" stroke-width="1"/>
<g fill="#000000"><circle cx="157.3" cy="665.2" r="4.9"/><circle cx="163" cy="658.6" r="4.9"/><circle cx="169.6" cy="652" r="4.9"/><circle cx="176.3" cy="647.2" r="4.9"/><circle cx="182.9" cy="644.4" r="4.9"/><circle cx="189.1" cy="642.5" r="4.9"/><circle cx="196.2" cy="640.1" r="4.9"/><circle cx="203.8" cy="638.2" r="4.9"/><circle cx="214.7" cy="635.4" r="4.9"/><circle cx="225.1" cy="633.5" r="4.9"/><circle cx="236.5" cy="630.6" r="4.9"/><circle cx="247.4" cy="630.6" r="4.9"/><circle cx="258.7" cy="630.2" r="4.9"/><circle cx="269.9" cy="629.4" r="4.9"/><circle cx="281" cy="629.2" r="4.9"/><circle cx="291.7" cy="628.7" r="4.9"/><circle cx="302.3" cy="628.2" r="4.9"/><circle cx="312.5" cy="627.5" r="4.9"/><circle cx="322.9" cy="626.8" r="4.9"/><circle cx="333.1" cy="625.6" r="4.9"/><circle cx="343.8" cy="624" r="4.9"/><circle cx="354.5" cy="622.8" r="4.9"/><circle cx="365.1" cy="620.4" r="4.9"/><circle cx="375.8" cy="618.1" r="4.9"/><circle cx="386.4" cy="615" r="4.9"/><circle cx="397.1" cy="610.2" r="4.9"/><circle cx="406.6" cy="605" r="4.9"/><circle cx="418.4" cy="598.4" r="4.9"/><circle cx="428.6" cy="590.3" r="4.9"/><circle cx="441.3" cy="579.1" r="4.9"/><circle cx="450.6" cy="565.9" r="4.9"/><circle cx="465.7" cy="550" r="4.9"/><circle cx="480.2" cy="528.3" r="4.9"/><circle cx="500.4" cy="501" r="4.9"/></g>
<path d="M50.9,807.6 L51.8,807.2 L52.8,806.6 L54,806 L55.4,805.2 L56.9,804.4 L58.5,803.6 L60.2,802.8 L62,801.9 L63.9,801.1 L65.8,800.4 L67.8,799.7 L69.8,799.1 L71.9,798.6 L74,798.2 L76.2,797.8 L78.6,797.4 L80.9,797.1 L83.4,796.8 L85.9,796.5 L88.5,796.3 L91.2,796 L93.9,795.7 L96.7,795.4 L99.6,795.1 L102.6,794.8 L105.7,794.5 L108.8,794.2 L112.1,793.9 L115.5,793.6 L118.9,793.3 L122.3,793 L125.8,792.7 L129.2,792.3 L132.7,792 L136.1,791.6 L139.4,791.2 L142.8,790.8 L146.2,790.3 L149.8,789.8 L153.3,789.3 L156.9,788.8 L160.4,788.3 L163.9,787.8 L167.3,787.3 L170.5,786.7 L173.6,786.2 L176.5,785.7 L179.1,785.2 L181.5,784.7 L183.8,784.2 L185.8,783.7 L187.7,783.3 L189.5,782.8 L191.2,782.3 L192.7,781.8 L194.2,781.3 L195.7,780.9 L197.1,780.4 L198.6,779.9 L200,779.5 L201.5,779 L202.9,778.6 L204.3,778.1 L205.7,777.6 L207,777.1 L208.3,776.6 L209.5,776.2 L210.6,775.8 L211.6,775.4 L212.6,775 L213.3,774.7 L214,774.5 L223,771.3 L237.6,765.2 L249.9,759 L263.3,751.8 L278.7,742.6 L294.1,732.3 L313.6,720" fill="none" stroke="#f9d3d3" stroke-width="1"/>
<g fill="#f9d3d3"><circle cx="50.9" cy="807.6" r="4.9"/><circle cx="53.1" cy="806.5" r="4.9"/><circle cx="55.3" cy="805.3" r="4.9"/><circle cx="57.5" cy="804.1" r="4.9"/><circle cx="59.8" cy="803" r="4.9"/><circle cx="62" cy="801.9" r="4.9"/><circle cx="64.3" cy="800.9" r="4.9"/><circle cx="66.7" cy="800.1" r="4.9"/><circle cx="69.1" cy="799.3" r="4.9"/><circle cx="71.5" cy="798.7" r="4.9"/><circle cx="73.9" cy="798.2" r="4.9"/><circle cx="76.4" cy="797.8" r="4.9"/><circle cx="78.9" cy="797.4" r="4.9"/><circle cx="81.3" cy="797.1" r="4.9"/><circle cx="83.8" cy="796.8" r="4.9"/><circle cx="86.3" cy="796.5" r="4.9"/><circle cx="88.8" cy="796.2" r="4.9"/><circle cx="91.3" cy="796" r="4.9"/><circle cx="93.8" cy="795.7" r="4.9"/><circle cx="96.3" cy="795.5" r="4.9"/><circle cx="98.7" cy="795.2" r="4.9"/><circle cx="101.2" cy="794.9" r="4.9"/><circle cx="103.7" cy="794.7" r="4.9"/><circle cx="106.2" cy="794.4" r="4.9"/><circle cx="108.7" cy="794.2" r="4.9"/><circle cx="111.2" cy="794" r="4.9"/><circle cx="113.7" cy="793.7" r="4.9"/><circle cx="116.2" cy="793.5" r="4.9"/><circle cx="118.6" cy="793.3" r="4.9"/><circle cx="121.1" cy="793.1" r="4.9"/><circle cx="123.6" cy="792.8" r="4.9"/><circle cx="126.1" cy="792.6" r="4.9"/><circle cx="128.6" cy="792.4" r="4.9"/><circle cx="131.1" cy="792.1" r="4.9"/><circle cx="133.6" cy="791.9" r="4.9"/><circle cx="136.1" cy="791.6" r="4.9"/><circle cx="138.5" cy="791.3" r="4.9"/><circle cx="141" cy="791" r="4.9"/><circle cx="143.5" cy="790.7" r="4.9"/><circle cx="146" cy="790.4" r="4.9"/><circle cx="148.5" cy="790" r="4.9"/><circle cx="150.9" cy="789.7" r="4.9"/><circle cx="153.4" cy="789.3" r="4.9"/><circle cx="155.9" cy="789" r="4.9"/><circle cx="158.4" cy="788.6" r="4.9"/><circle cx="160.8" cy="788.3" r="4.9"/><circle cx="163.3" cy="787.9" r="4.9"/><circle cx="165.8" cy="787.5" r="4.9"/><circle cx="168.2" cy="787.1" r="4.9"/><circle cx="170.7" cy="786.7" r="4.9"/><circle cx="173.2" cy="786.3" r="4.9"/><circle cx="175.6" cy="785.8" r="4.9"/><circle cx="178.1" cy="785.4" r="4.9"/><circle cx="180.6" cy="784.9" r="4.9"/><circle cx="183" cy="784.4" r="4.9"/><circle cx="185.4" cy="783.8" r="4.9"/><circle cx="187.9" cy="783.2" r="4.9"/><circle cx="190.3" cy="782.5" r="4.9"/><circle cx="192.7" cy="781.8" r="4.9"/><circle cx="195" cy="781.1" r="4.9"/><circle cx="197.4" cy="780.3" r="4.9"/><circle cx="199.8" cy="779.6" r="4.9"/><circle cx="202.2" cy="778.8" r="4.9"/><circle cx="204.6" cy="778" r="4.9"/><circle cx="206.9" cy="777.2" r="4.9"/><circle cx="209.3" cy="776.3" r="4.9"/><circle cx="211.6" cy="775.4" r="4.9"/><circle cx="213.9" cy="774.5" r="4.9"/><circle cx="223" cy="771.3" r="4.9"/><circle cx="237.6" cy="765.2" r="4.9"/><circle cx="249.9" cy="759" r="4.9"/><circle cx="263.3" cy="751.8" r="4.9"/><circle cx="278.7" cy="742.6" r="4.9"/><circle cx="294.1" cy="732.3" r="4.9"/><circle cx="313.6" cy="720" r="4.9"/></g>
<path d="M68.8,784.2 L69.3,783.8 L69.9,783.3 L70.5,782.7 L71.3,782 L72.1,781.2 L73,780.4 L74,779.6 L75,778.9 L76.1,778.1 L77.2,777.4 L78.4,776.8 L79.7,776.3 L81,775.9 L82.4,775.4 L83.8,775.1 L85.3,774.7 L86.9,774.4 L88.5,774.1 L90.2,773.9 L91.9,773.7 L93.7,773.5 L95.6,773.4 L97.6,773.3 L99.6,773.3 L101.8,773.4 L104.1,773.5 L106.5,773.8 L109.1,774.2 L111.7,774.5 L114.4,774.9 L117,775.3 L119.7,775.7 L122.3,776 L124.8,776.2 L127.2,776.3 L129.4,776.3 L131.5,776.2 L133.6,776 L135.6,775.8 L137.5,775.5 L139.4,775.1 L141.2,774.7 L143,774.3 L144.7,773.8 L146.4,773.2 L148.1,772.6 L149.7,772 L151.3,771.3 L152.8,770.5 L154.3,769.7 L155.8,768.8 L157.2,767.8 L158.6,766.7 L159.9,765.7 L161.2,764.6 L162.4,763.5 L163.6,762.4 L164.9,761.4 L166,760.3 L167.2,759.4 L168.3,758.5 L169.5,757.6 L170.5,756.7 L171.6,755.8 L172.6,755 L173.6,754.1 L174.6,753.3 L175.6,752.5 L176.5,751.7 L177.4,750.9 L178.3,750.2 L179.1,749.4 L179.9,748.6 L180.8,747.9 L181.6,747.1 L182.4,746.3 L183.1,745.6 L183.8,744.8 L184.5,744.1 L185.2,743.5 L185.8,742.9 L186.3,742.3 L186.7,741.9 L187.1,741.5 L191.2,738.3 L199.6,729.8 L210,720 L222.8,710.4" fill="none" stroke="#f47c7c" stroke-width="1"/>
<g fill="#f47c7c"><circle cx="68.8" cy="784.2" r="4.9"/><circle cx="70.7" cy="782.5" r="4.9"/><circle cx="72.5" cy="780.9" r="4.9"/><circle cx="74.5" cy="779.3" r="4.9"/><circle cx="76.5" cy="777.9" r="4.9"/><circle cx="78.7" cy="776.7" r="4.9"/><circle cx="81.1" cy="775.8" r="4.9"/><circle cx="83.5" cy="775.2" r="4.9"/><circle cx="85.9" cy="774.6" r="4.9"/><circle cx="88.4" cy="774.1" r="4.9"/><circle cx="90.8" cy="773.8" r="4.9"/><circle cx="93.3" cy="773.5" r="4.9"/><circle cx="95.8" cy="773.4" r="4.9"/><circle cx="98.3" cy="773.3" r="4.9"/><circle cx="100.8" cy="773.3" r="4.9"/><circle cx="103.3" cy="773.5" r="4.9"/><circle cx="105.8" cy="773.7" r="4.9"/><circle cx="108.3" cy="774" r="4.9"/><circle cx="110.8" cy="774.4" r="4.9"/><circle cx="113.2" cy="774.8" r="4.9"/><circle cx="115.7" cy="775.1" r="4.9"/><circle cx="118.2" cy="775.5" r="4.9"/><circle cx="120.7" cy="775.8" r="4.9"/><circle cx="123.1" cy="776" r="4.9"/><circle cx="125.6" cy="776.2" r="4.9"/><circle cx="128.1" cy="776.3" r="4.9"/><circle cx="130.6" cy="776.2" r="4.9"/><circle cx="133.1" cy="776" r="4.9"/><circle cx="135.6" cy="775.8" r="4.9"/><circle cx="138.1" cy="775.4" r="4.9"/><circle cx="140.5" cy="774.9" r="4.9"/><circle cx="143" cy="774.3" r="4.9"/><circle cx="145.4" cy="773.6" r="4.9"/><circle cx="147.7" cy="772.8" r="4.9"/><circle cx="150" cy="771.8" r="4.9"/><circle cx="152.3" cy="770.8" r="4.9"/><circle cx="154.5" cy="769.6" r="4.9"/><circle cx="156.6" cy="768.2" r="4.9"/><circle cx="158.6" cy="766.7" r="4.9"/><circle cx="160.5" cy="765.1" r="4.9"/><circle cx="162.4" cy="763.5" r="4.9"/><circle cx="164.3" cy="761.8" r="4.9"/><circle cx="166.2" cy="760.2" r="4.9"/><circle cx="168.1" cy="758.7" r="4.9"/><circle cx="170.1" cy="757.1" r="4.9"/><circle cx="172" cy="755.5" r="4.9"/><circle cx="173.9" cy="753.9" r="4.9"/><circle cx="175.8" cy="752.3" r="4.9"/><circle cx="177.7" cy="750.6" r="4.9"/><circle cx="179.6" cy="749" r="4.9"/><circle cx="181.4" cy="747.2" r="4.9"/><circle cx="183.2" cy="745.5" r="4.9"/><circle cx="184.9" cy="743.7" r="4.9"/><circle cx="186.7" cy="741.9" r="4.9"/><circle cx="191.2" cy="738.3" r="4.9"/><circle cx="199.6" cy="729.8" r="4.9"/><circle cx="210" cy="720" r="4.9"/><circle cx="222.8" cy="710.4" r="4.9"/></g>
<path d="M85.7,760.4 L86.4,759.9 L87.1,759.4 L88.1,758.6 L89.1,757.8 L90.2,757 L91.4,756.1 L92.7,755.2 L94,754.3 L95.4,753.4 L96.8,752.7 L98.2,752 L99.6,751.4 L101,750.9 L102.6,750.5 L104.2,750.1 L105.8,749.8 L107.5,749.5 L109.2,749.2 L110.9,749 L112.6,748.8 L114.4,748.7 L116.1,748.5 L117.8,748.5 L119.5,748.4 L121.2,748.4 L122.9,748.4 L124.6,748.5 L126.3,748.7 L128,748.9 L129.7,749.1 L131.4,749.3 L133.1,749.5 L134.7,749.8 L136.3,750 L137.9,750.2 L139.4,750.4 L140.9,750.6 L142.3,750.8 L143.7,751.1 L145.1,751.4 L146.4,751.7 L147.7,752 L149,752.2 L150.3,752.4 L151.6,752.5 L152.8,752.6 L154.1,752.5 L155.3,752.4 L156.5,752.1 L157.8,751.8 L159,751.4 L160.2,750.9 L161.4,750.3 L162.6,749.7 L163.7,749.1 L164.9,748.4 L166,747.7 L167.1,747 L168.2,746.2 L169.2,745.5 L170.2,744.7 L171.2,743.9 L172.2,743 L173.2,742.1 L174.2,741.2 L175.1,740.2 L176,739.2 L176.9,738.3 L177.7,737.4 L178.5,736.5 L179.3,735.7 L180,735 L180.7,734.3 L181.3,733.7 L182,733 L182.6,732.4 L183.1,731.9 L183.7,731.3 L184.2,730.8 L184.6,730.4 L185,730 L185.4,729.6 L185.7,729.3 L186,729 L192,722.5 L201,716 L212.8,708.8 L222.8,701 L235.5,686.6 L251.4,673.8 L268,654.6" fill="none" stroke="#f24e4e" stroke-width="1"/>
<g fill="#f24e4e"><circle cx="85.7" cy="760.4" r="4.9"/><circle cx="87.7" cy="758.9" r="4.9"/><circle cx="89.7" cy="757.4" r="4.9"/><circle cx="91.7" cy="755.9" r="4.9"/><circle cx="93.7" cy="754.5" r="4.9"/><circle cx="95.9" cy="753.2" r="4.9"/><circle cx="98.1" cy="752" r="4.9"/><circle cx="100.4" cy="751.1" r="4.9"/><circle cx="102.8" cy="750.4" r="4.9"/><circle cx="105.3" cy="749.9" r="4.9"/><circle cx="107.7" cy="749.4" r="4.9"/><circle cx="110.2" cy="749.1" r="4.9"/><circle cx="112.7" cy="748.8" r="4.9"/><circle cx="115.2" cy="748.6" r="4.9"/><circle cx="117.7" cy="748.5" r="4.9"/><circle cx="120.2" cy="748.4" r="4.9"/><circle cx="122.7" cy="748.4" r="4.9"/><circle cx="125.2" cy="748.6" r="4.9"/><circle cx="127.7" cy="748.8" r="4.9"/><circle cx="130.1" cy="749.1" r="4.9"/><circle cx="132.6" cy="749.5" r="4.9"/><circle cx="135.1" cy="749.8" r="4.9"/><circle cx="137.6" cy="750.2" r="4.9"/><circle cx="140" cy="750.5" r="4.9"/><circle cx="142.5" cy="750.9" r="4.9"/><circle cx="145" cy="751.4" r="4.9"/><circle cx="147.4" cy="751.9" r="4.9"/><circle cx="149.9" cy="752.3" r="4.9"/><circle cx="152.4" cy="752.6" r="4.9"/><circle cx="154.9" cy="752.5" r="4.9"/><circle cx="157.3" cy="751.9" r="4.9"/><circle cx="159.7" cy="751.1" r="4.9"/><circle cx="161.9" cy="750.1" r="4.9"/><circle cx="164.1" cy="748.9" r="4.9"/><circle cx="166.2" cy="747.5" r="4.9"/><circle cx="168.3" cy="746.1" r="4.9"/><circle cx="170.3" cy="744.7" r="4.9"/><circle cx="172.2" cy="743" r="4.9"/><circle cx="174" cy="741.3" r="4.9"/><circle cx="175.8" cy="739.5" r="4.9"/><circle cx="177.5" cy="737.7" r="4.9"/><circle cx="179.2" cy="735.8" r="4.9"/><circle cx="180.9" cy="734.1" r="4.9"/><circle cx="182.7" cy="732.3" r="4.9"/><circle cx="184.5" cy="730.5" r="4.9"/><circle cx="186" cy="729" r="4.9"/><circle cx="192" cy="722.5" r="4.9"/><circle cx="201" cy="716" r="4.9"/><circle cx="212.8" cy="708.8" r="4.9"/><circle cx="222.8" cy="701" r="4.9"/><circle cx="235.5" cy="686.6" r="4.9"/><circle cx="251.4" cy="673.8" r="4.9"/><circle cx="268" cy="654.6" r="4.9"/></g>
<path d="M104.4,737.5 L104.7,737.2 L105,736.8 L105.4,736.4 L105.8,735.9 L106.3,735.4 L106.8,734.8 L107.3,734.2 L107.9,733.6 L108.4,733.1 L108.9,732.5 L109.5,732 L110,731.5 L110.5,731 L111,730.6 L111.6,730.2 L112.1,729.7 L112.7,729.3 L113.2,728.9 L113.8,728.5 L114.4,728.1 L114.9,727.7 L115.5,727.3 L116.1,726.9 L116.6,726.5 L117.1,726.1 L117.7,725.8 L118.2,725.4 L118.7,725 L119.3,724.7 L119.8,724.4 L120.3,724 L120.8,723.7 L121.4,723.4 L121.9,723.1 L122.4,722.8 L123,722.5 L123.6,722.2 L124.2,721.9 L124.9,721.7 L125.5,721.4 L126.2,721.1 L126.8,720.9 L127.5,720.7 L128.1,720.5 L128.6,720.3 L129.1,720.1 L129.6,719.9 L129.9,719.8 L134,718 L134.2,717.9 L134.5,717.8 L134.7,717.7 L135.1,717.6 L135.4,717.5 L135.8,717.3 L136.2,717.2 L136.6,717 L137.1,716.9 L137.6,716.7 L138.1,716.6 L138.7,716.5 L139.3,716.4 L139.9,716.3 L140.6,716.2 L141.4,716.1 L142.1,716 L142.9,715.9 L143.7,715.8 L144.5,715.7 L145.3,715.6 L146.1,715.5 L146.8,715.5 L147.6,715.4 L148.3,715.3 L149.1,715.3 L149.8,715.2 L150.5,715.2 L151.3,715.1 L152,715.1 L152.7,715 L153.5,715 L154.2,714.9 L154.9,714.9 L155.7,714.8 L156.4,714.8 L157.1,714.8 L157.9,714.7 L158.6,714.6 L159.4,714.6 L160.2,714.5 L160.9,714.5 L161.7,714.4 L162.4,714.4 L163.2,714.4 L163.9,714.3 L164.6,714.3 L165.3,714.3 L166,714.3 L166.7,714.3 L167.3,714.4 L168,714.4 L168.6,714.4 L169.3,714.5 L169.9,714.5 L170.6,714.6 L171.2,714.6 L171.8,714.7 L172.4,714.8 L173,714.8 L173.6,714.8 L174.1,714.9 L174.7,714.9 L175.2,715 L175.8,715 L176.3,715.1 L176.8,715.1 L177.4,715.2 L177.9,715.2 L178.4,715.3 L179,715.3 L179.6,715.4 L180.2,715.4 L180.8,715.5 L181.5,715.5 L182.2,715.6 L182.8,715.6 L183.5,715.6 L184.2,715.7 L184.8,715.7 L185.5,715.8 L186.2,715.8 L186.8,715.9 L187.4,716 L188,716.1 L188.6,716.2 L189.1,716.3 L189.7,716.5 L190.2,716.6 L190.8,716.8 L191.3,716.9 L191.8,717 L192.4,717.2 L192.9,717.3 L193.4,717.5 L194,717.6 L194.6,717.7 L195.1,717.8 L195.7,718 L196.3,718.1 L196.9,718.2 L197.5,718.3 L198.1,718.4 L198.7,718.5 L199.2,718.7 L199.8,718.8 L200.4,718.9 L201,719 L201.6,719.1 L202.2,719.2 L202.8,719.3 L203.3,719.4 L203.9,719.6 L204.5,719.7 L205.1,719.8 L205.7,719.9 L206.2,720 L206.8,720.1 L207.4,720.2 L208,720.3 L208.6,720.4 L209.2,720.5 L209.9,720.6 L210.6,720.8 L211.3,720.9 L211.9,721 L212.6,721.1 L213.2,721.2 L213.7,721.3 L214.2,721.4 L214.7,721.4 L215,721.5 L218,722 L218.2,722 L218.3,722 L218.4,722 L218.6,722 L218.8,722 L219,722.1 L219.3,722.1 L219.6,722.1 L220.1,722.2 L220.6,722.3 L221.2,722.4 L222,722.5 L222.9,722.7 L224,722.9 L225.2,723.1 L226.5,723.4 L227.8,723.6 L229.3,723.9 L230.7,724.2 L232.2,724.5 L233.7,724.8 L235.2,725 L236.6,725.3 L238,725.5 L239.3,725.7 L240.7,725.9 L242.1,726.1 L243.5,726.3 L244.8,726.5 L246.2,726.7 L247.6,726.8 L248.9,727 L250.2,727.1 L251.4,727.2 L252.6,727.2 L253.8,727.2 L254.9,727.2 L255.9,727.1 L256.8,727.1 L257.7,727 L258.6,726.8 L259.5,726.7 L260.3,726.5 L261.2,726.3 L262.1,726 L263,725.7 L264,725.4 L265,725 L266.1,724.6 L267.2,724 L268.3,723.5 L269.4,722.9 L270.6,722.3 L271.8,721.6 L273,720.9 L274.3,720.2 L275.6,719.4 L276.9,718.7 L278.3,717.9 L279.7,717.2 L281.2,716.4 L282.8,715.7 L284.4,714.8 L286.2,714 L287.9,713.1 L289.7,712.3 L291.5,711.4 L293.2,710.6 L294.9,709.7 L296.6,708.9 L298.1,708.1 L299.6,707.3 L301,706.5 L302.4,705.7 L303.8,704.9 L305.2,704.1 L306.5,703.3 L307.8,702.5 L309,701.8 L310.1,701.1 L311.1,700.5 L312.1,699.9 L312.8,699.4 L313.5,699 L319.9,693.9 L328.7,687.7 L338.9,679.7 L350.8,667.4 L364.9,658.1 L378.6,642.6 L400.9,623.8" fill="none" stroke="#ff0000" stroke-width="1"/>
<g fill="#ff0000"><circle cx="104.4" cy="737.5" r="4.9"/><circle cx="106.1" cy="735.6" r="4.9"/><circle cx="107.7" cy="733.8" r="4.9"/><circle cx="109.5" cy="732" r="4.9"/><circle cx="111.4" cy="730.3" r="4.9"/><circle cx="113.3" cy="728.8" r="4.9"/><circle cx="115.4" cy="727.4" r="4.9"/><circle cx="117.4" cy="725.9" r="4.9"/><circle cx="119.5" cy="724.5" r="4.9"/><circle cx="121.6" cy="723.2" r="4.9"/><circle cx="123.9" cy="722.1" r="4.9"/><circle cx="126.2" cy="721.2" r="4.9"/><circle cx="128.5" cy="720.3" r="4.9"/><circle cx="129.9" cy="719.8" r="4.9"/><circle cx="134" cy="718" r="4.9"/><circle cx="140.5" cy="716.2" r="4.9"/><circle cx="147.3" cy="715.4" r="4.9"/><circle cx="154.1" cy="714.9" r="4.9"/><circle cx="160.9" cy="714.5" r="4.9"/><circle cx="167.7" cy="714.4" r="4.9"/><circle cx="174.4" cy="714.9" r="4.9"/><circle cx="181.2" cy="715.5" r="4.9"/><circle cx="188" cy="716.1" r="4.9"/><circle cx="194.6" cy="717.7" r="4.9"/><circle cx="201.2" cy="719" r="4.9"/><circle cx="207.9" cy="720.3" r="4.9"/><circle cx="214.6" cy="721.4" r="4.9"/><circle cx="218" cy="722" r="4.9"/><circle cx="220.5" cy="722.3" r="4.9"/><circle cx="222.9" cy="722.7" r="4.9"/><circle cx="225.4" cy="723.2" r="4.9"/><circle cx="227.9" cy="723.6" r="4.9"/><circle cx="230.3" cy="724.1" r="4.9"/><circle cx="232.8" cy="724.6" r="4.9"/><circle cx="235.2" cy="725" r="4.9"/><circle cx="237.7" cy="725.5" r="4.9"/><circle cx="240.2" cy="725.8" r="4.9"/><circle cx="242.6" cy="726.2" r="4.9"/><circle cx="245.1" cy="726.5" r="4.9"/><circle cx="247.6" cy="726.8" r="4.9"/><circle cx="250.1" cy="727.1" r="4.9"/><circle cx="252.6" cy="727.2" r="4.9"/><circle cx="255.1" cy="727.2" r="4.9"/><circle cx="257.6" cy="727" r="4.9"/><circle cx="260" cy="726.6" r="4.9"/><circle cx="262.4" cy="725.9" r="4.9"/><circle cx="264.8" cy="725.1" r="4.9"/><circle cx="267.1" cy="724.1" r="4.9"/><circle cx="269.3" cy="723" r="4.9"/><circle cx="271.5" cy="721.7" r="4.9"/><circle cx="273.7" cy="720.5" r="4.9"/><circle cx="275.9" cy="719.3" r="4.9"/><circle cx="278" cy="718.1" r="4.9"/><circle cx="280.3" cy="716.9" r="4.9"/><circle cx="282.5" cy="715.8" r="4.9"/><circle cx="284.7" cy="714.7" r="4.9"/><circle cx="287" cy="713.6" r="4.9"/><circle cx="289.2" cy="712.5" r="4.9"/><circle cx="291.5" cy="711.4" r="4.9"/><circle cx="293.7" cy="710.3" r="4.9"/><circle cx="296" cy="709.2" r="4.9"/><circle cx="298.2" cy="708" r="4.9"/><circle cx="300.4" cy="706.9" r="4.9"/><circle cx="302.6" cy="705.6" r="4.9"/><circle cx="304.7" cy="704.4" r="4.9"/><circle cx="306.9" cy="703.1" r="4.9"/><circle cx="309" cy="701.8" r="4.9"/><circle cx="311.1" cy="700.5" r="4.9"/><circle cx="313.3" cy="699.1" r="4.9"/><circle cx="319.9" cy="693.9" r="4.9"/><circle cx="328.7" cy="687.7" r="4.9"/><circle cx="338.9" cy="679.7" r="4.9"/><circle cx="350.8" cy="667.4" r="4.9"/><circle cx="364.9" cy="658.1" r="4.9"/><circle cx="378.6" cy="642.6" r="4.9"/><circle cx="400.9" cy="623.8" r="4.9"/></g>
<path d="M138.4,689.8 L138.7,689.4 L139,688.9 L139.4,688.4 L139.8,687.7 L140.3,687 L140.7,686.3 L141.3,685.5 L141.8,684.8 L142.3,684 L142.9,683.3 L143.5,682.6 L144,682 L144.5,681.4 L145.1,680.9 L145.7,680.3 L146.3,679.8 L146.9,679.3 L147.5,678.8 L148.1,678.3 L148.7,677.8 L149.3,677.3 L150,676.9 L150.6,676.4 L151.3,675.9 L152,675.4 L152.6,674.9 L153.3,674.5 L154,674 L154.7,673.5 L155.4,673.1 L156.2,672.6 L156.9,672.2 L157.7,671.7 L158.4,671.3 L159.2,670.9 L160,670.5 L160.9,670.1 L161.8,669.7 L162.8,669.3 L163.8,669 L164.8,668.6 L165.8,668.3 L166.8,667.9 L167.8,667.6 L168.7,667.3 L169.4,667.1 L170.1,666.9 L170.6,666.7 L179.1,663.8 L188.1,661.4 L198.6,659.5 L209.5,658.6 L221.8,658.6 L232.7,657.7 L244,658.1 L255,658.6 L265.6,659.5 L275,660.7 L284.5,662.4 L290,663.5 L290.8,663.6 L291.7,663.7 L292.7,663.8 L293.9,664 L295.2,664.1 L296.6,664.3 L298.1,664.5 L299.6,664.6 L301.2,664.8 L302.8,665.1 L304.3,665.3 L305.9,665.5 L307.5,665.7 L309.1,666 L310.8,666.3 L312.6,666.6 L314.4,666.8 L316.2,667.1 L318.1,667.5 L319.9,667.8 L321.7,668.1 L323.6,668.4 L325.4,668.7 L327.2,669 L329,669.3 L330.7,669.6 L332.5,669.8 L334.2,670.1 L336,670.3 L337.7,670.6 L339.5,670.8 L341.2,671.1 L343,671.5 L344.8,671.8 L346.6,672.2 L348.5,672.6 L350.4,673.1 L352.3,673.6 L354.3,674.2 L356.3,674.8 L358.3,675.5 L360.3,676.2 L362.3,676.8 L364.3,677.5 L366.3,678.1 L368.3,678.7 L370.3,679.2 L372.2,679.7 L374.1,680.1 L376.1,680.5 L378.1,680.9 L380.1,681.3 L382.1,681.7 L384.1,682 L386.1,682.3 L387.9,682.5 L389.8,682.7 L391.5,682.9 L393.2,683.1 L394.7,683.2 L396.1,683.3 L397.4,683.3 L398.7,683.3 L399.8,683.3 L400.9,683.2 L401.9,683.1 L402.9,683 L403.9,682.8 L404.8,682.7 L405.8,682.5 L406.8,682.2 L407.8,682 L408.8,681.7 L409.9,681.4 L411,681 L412,680.7 L413,680.2 L414.1,679.8 L415.1,679.4 L416.1,678.9 L417,678.5 L417.9,678.1 L418.8,677.7 L419.6,677.3 L420.4,677 L421.1,676.6 L421.9,676.2 L422.6,675.9 L423.3,675.5 L423.9,675.2 L424.5,674.9 L425,674.6 L425.5,674.3 L426,674.1 L426.4,673.9 L426.7,673.7" fill="none" stroke="#5a0006" stroke-width="1"/>
<g fill="#5a0006"><circle cx="138.4" cy="689.8" r="4.9"/><circle cx="140.1" cy="687.3" r="4.9"/><circle cx="141.8" cy="684.8" r="4.9"/><circle cx="143.6" cy="682.5" r="4.9"/><circle cx="145.7" cy="680.3" r="4.9"/><circle cx="148" cy="678.4" r="4.9"/><circle cx="150.4" cy="676.6" r="4.9"/><circle cx="152.8" cy="674.8" r="4.9"/><circle cx="155.3" cy="673.1" r="4.9"/><circle cx="157.9" cy="671.6" r="4.9"/><circle cx="160.6" cy="670.3" r="4.9"/><circle cx="163.3" cy="669.1" r="4.9"/><circle cx="166.2" cy="668.2" r="4.9"/><circle cx="169" cy="667.2" r="4.9"/><circle cx="170.6" cy="666.7" r="4.9"/><circle cx="179.1" cy="663.8" r="4.9"/><circle cx="188.1" cy="661.4" r="4.9"/><circle cx="198.6" cy="659.5" r="4.9"/><circle cx="209.5" cy="658.6" r="4.9"/><circle cx="221.8" cy="658.6" r="4.9"/><circle cx="232.7" cy="657.7" r="4.9"/><circle cx="244" cy="658.1" r="4.9"/><circle cx="255" cy="658.6" r="4.9"/><circle cx="265.6" cy="659.5" r="4.9"/><circle cx="275" cy="660.7" r="4.9"/><circle cx="284.5" cy="662.4" r="4.9"/><circle cx="290" cy="663.5" r="4.9"/><circle cx="292.5" cy="663.8" r="4.9"/><circle cx="295" cy="664.1" r="4.9"/><circle cx="297.4" cy="664.4" r="4.9"/><circle cx="299.9" cy="664.7" r="4.9"/><circle cx="302.4" cy="665" r="4.9"/><circle cx="304.9" cy="665.4" r="4.9"/><circle cx="307.4" cy="665.7" r="4.9"/><circle cx="309.8" cy="666.1" r="4.9"/><circle cx="312.3" cy="666.5" r="4.9"/><circle cx="314.8" cy="666.9" r="4.9"/><circle cx="317.2" cy="667.3" r="4.9"/><circle cx="319.7" cy="667.7" r="4.9"/><circle cx="322.2" cy="668.2" r="4.9"/><circle cx="324.6" cy="668.6" r="4.9"/><circle cx="327.1" cy="669" r="4.9"/><circle cx="329.6" cy="669.4" r="4.9"/><circle cx="332" cy="669.7" r="4.9"/><circle cx="334.5" cy="670.1" r="4.9"/><circle cx="337" cy="670.5" r="4.9"/><circle cx="339.4" cy="670.8" r="4.9"/><circle cx="341.9" cy="671.3" r="4.9"/><circle cx="344.4" cy="671.7" r="4.9"/><circle cx="346.8" cy="672.2" r="4.9"/><circle cx="349.3" cy="672.8" r="4.9"/><circle cx="351.7" cy="673.4" r="4.9"/><circle cx="354.1" cy="674.1" r="4.9"/><circle cx="356.5" cy="674.9" r="4.9"/><circle cx="358.8" cy="675.7" r="4.9"/><circle cx="361.2" cy="676.5" r="4.9"/><circle cx="363.6" cy="677.2" r="4.9"/><circle cx="366" cy="678" r="4.9"/><circle cx="368.4" cy="678.7" r="4.9"/><circle cx="370.8" cy="679.3" r="4.9"/><circle cx="373.2" cy="679.9" r="4.9"/><circle cx="375.7" cy="680.4" r="4.9"/><circle cx="378.1" cy="680.9" r="4.9"/><circle cx="380.6" cy="681.4" r="4.9"/><circle cx="383" cy="681.8" r="4.9"/><circle cx="385.5" cy="682.2" r="4.9"/><circle cx="388" cy="682.5" r="4.9"/><circle cx="390.5" cy="682.8" r="4.9"/><circle cx="392.9" cy="683.1" r="4.9"/><circle cx="395.4" cy="683.2" r="4.9"/><circle cx="397.9" cy="683.3" r="4.9"/><circle cx="400.4" cy="683.2" r="4.9"/><circle cx="402.9" cy="683" r="4.9"/><circle cx="405.4" cy="682.5" r="4.9"/><circle cx="407.8" cy="682" r="4.9"/><circle cx="410.2" cy="681.3" r="4.9"/><circle cx="412.6" cy="680.4" r="4.9"/><circle cx="414.9" cy="679.5" r="4.9"/><circle cx="417.1" cy="678.4" r="4.9"/><circle cx="419.4" cy="677.4" r="4.9"/><circle cx="421.7" cy="676.3" r="4.9"/><circle cx="423.9" cy="675.2" r="4.9"/><circle cx="426.1" cy="674" r="4.9"/></g>
<path d="M121.3,714.2 L121.6,713.9 L121.9,713.6 L122.3,713.1 L122.8,712.7 L123.2,712.2 L123.8,711.6 L124.3,711.1 L124.9,710.5 L125.4,710 L126,709.4 L126.5,708.9 L127,708.5 L127.5,708.1 L128,707.7 L128.5,707.4 L129,707.1 L129.5,706.8 L130,706.4 L130.5,706.1 L131.1,705.8 L131.6,705.5 L132.1,705.1 L132.7,704.7 L133.2,704.3 L133.7,703.8 L134.3,703.4 L134.9,702.8 L135.4,702.3 L136,701.8 L136.6,701.2 L137.2,700.7 L137.7,700.1 L138.3,699.6 L138.9,699 L139.4,698.5 L140,698 L140.6,697.5 L141.2,697 L141.8,696.5 L142.4,696 L143.1,695.5 L143.7,695 L144.3,694.5 L144.8,694 L145.3,693.6 L145.8,693.3 L146.2,693 L146.5,692.7 L150,692 L150.2,692 L150.5,692 L150.8,692 L151.2,691.9 L151.5,691.9 L152,691.9 L152.4,691.9 L152.9,691.8 L153.4,691.8 L154,691.7 L154.6,691.7 L155.3,691.6 L156,691.5 L156.8,691.4 L157.7,691.3 L158.6,691.1 L159.6,691 L160.6,690.9 L161.6,690.7 L162.6,690.5 L163.6,690.4 L164.6,690.3 L165.5,690.1 L166.4,690 L167.3,689.9 L168.1,689.8 L169,689.6 L169.8,689.5 L170.7,689.4 L171.5,689.3 L172.3,689.2 L173.1,689.1 L173.9,689 L174.7,688.9 L175.5,688.9 L176.3,688.8 L177.1,688.8 L177.9,688.7 L178.6,688.7 L179.4,688.7 L180.1,688.7 L180.9,688.7 L181.6,688.7 L182.4,688.7 L183.1,688.7 L183.8,688.8 L184.5,688.8 L185.2,688.8 L185.9,688.8 L186.5,688.9 L187.2,688.9 L187.8,689 L188.4,689 L189.1,689.1 L189.7,689.1 L190.3,689.2 L190.9,689.2 L191.6,689.3 L192.2,689.3 L192.9,689.4 L193.6,689.4 L194.3,689.5 L195,689.5 L195.8,689.5 L196.5,689.6 L197.3,689.6 L198,689.6 L198.8,689.7 L199.6,689.7 L200.3,689.8 L201.1,689.9 L201.8,690 L202.5,690.1 L203.3,690.3 L204.1,690.4 L204.9,690.6 L205.6,690.8 L206.4,691 L207.2,691.2 L207.9,691.4 L208.6,691.6 L209.3,691.8 L210,692 L210.6,692.2 L211.2,692.4 L211.8,692.5 L212.3,692.7 L212.9,692.9 L213.4,693.1 L213.8,693.2 L214.3,693.4 L214.7,693.5 L215.1,693.7 L215.5,693.8 L215.7,693.9 L216,694 L218,694.5 L218.1,694.5 L218.2,694.6 L218.4,694.6 L218.5,694.6 L218.6,694.7 L218.8,694.7 L219,694.8 L219.3,694.9 L219.8,695 L220.3,695.1 L220.9,695.3 L221.7,695.5 L222.7,695.7 L223.8,696 L225,696.3 L226.4,696.7 L227.9,697 L229.4,697.4 L231,697.8 L232.6,698.2 L234.2,698.6 L235.8,699 L237.3,699.3 L238.7,699.7 L240.1,700.1 L241.5,700.4 L242.8,700.8 L244.2,701.2 L245.6,701.6 L246.9,702 L248.3,702.3 L249.7,702.7 L251,703 L252.3,703.4 L253.7,703.7 L255,704 L256.3,704.3 L257.7,704.6 L259,704.9 L260.3,705.2 L261.7,705.5 L263,705.8 L264.3,706 L265.6,706.3 L266.9,706.4 L268.1,706.5 L269.3,706.6 L270.5,706.6 L271.6,706.5 L272.8,706.4 L273.8,706.2 L274.9,705.9 L275.9,705.6 L277,705.3 L278,705 L279,704.6 L280,704.2 L281,703.8 L282,703.4 L283,703 L284,702.6 L285.1,702.2 L286.1,701.8 L287.1,701.3 L288.1,700.9 L289.1,700.4 L290.2,700 L291.2,699.5 L292.2,699 L293.2,698.5 L294.1,697.9 L295.1,697.4 L296.1,696.8 L297,696.3 L297.9,695.7 L298.9,695 L299.8,694.4 L300.7,693.8 L301.6,693.1 L302.5,692.5 L303.4,691.9 L304.3,691.2 L305.1,690.6 L306,690 L306.8,689.4 L307.7,688.8 L308.5,688.2 L309.3,687.7 L310.1,687.1 L310.9,686.5 L311.7,686 L312.5,685.4 L313.3,684.8 L314.1,684.3 L314.9,683.7 L315.7,683.1 L316.6,682.5 L317.5,681.8 L318.5,681.2 L319.5,680.5 L320.5,679.8 L321.5,679.1 L322.4,678.4 L323.3,677.8 L324.1,677.2 L324.9,676.7 L325.5,676.2 L326,675.9 L339.3,661.6" fill="none" stroke="#a80000" stroke-width="1"/>
<g fill="#a80000"><circle cx="121.3" cy="714.2" r="4.9"/><circle cx="123" cy="712.4" r="4.9"/><circle cx="124.8" cy="710.6" r="4.9"/><circle cx="126.6" cy="708.9" r="4.9"/><circle cx="128.6" cy="707.4" r="4.9"/><circle cx="130.7" cy="706" r="4.9"/><circle cx="132.8" cy="704.6" r="4.9"/><circle cx="134.7" cy="703" r="4.9"/><circle cx="136.5" cy="701.3" r="4.9"/><circle cx="138.3" cy="699.6" r="4.9"/><circle cx="140.1" cy="697.9" r="4.9"/><circle cx="142" cy="696.3" r="4.9"/><circle cx="144" cy="694.7" r="4.9"/><circle cx="145.9" cy="693.2" r="4.9"/><circle cx="150" cy="692" r="4.9"/><circle cx="156.8" cy="691.4" r="4.9"/><circle cx="163.5" cy="690.4" r="4.9"/><circle cx="170.2" cy="689.5" r="4.9"/><circle cx="177" cy="688.8" r="4.9"/><circle cx="183.8" cy="688.8" r="4.9"/><circle cx="190.6" cy="689.2" r="4.9"/><circle cx="197.4" cy="689.6" r="4.9"/><circle cx="204.1" cy="690.4" r="4.9"/><circle cx="210.7" cy="692.2" r="4.9"/><circle cx="216" cy="694" r="4.9"/><circle cx="218" cy="694.5" r="4.9"/><circle cx="220.4" cy="695.2" r="4.9"/><circle cx="222.8" cy="695.8" r="4.9"/><circle cx="225.3" cy="696.4" r="4.9"/><circle cx="227.7" cy="697" r="4.9"/><circle cx="230.1" cy="697.6" r="4.9"/><circle cx="232.5" cy="698.2" r="4.9"/><circle cx="235" cy="698.8" r="4.9"/><circle cx="237.4" cy="699.4" r="4.9"/><circle cx="239.8" cy="700" r="4.9"/><circle cx="242.2" cy="700.6" r="4.9"/><circle cx="244.6" cy="701.3" r="4.9"/><circle cx="247" cy="702" r="4.9"/><circle cx="249.5" cy="702.6" r="4.9"/><circle cx="251.9" cy="703.3" r="4.9"/><circle cx="254.3" cy="703.8" r="4.9"/><circle cx="256.8" cy="704.4" r="4.9"/><circle cx="259.2" cy="705" r="4.9"/><circle cx="261.6" cy="705.5" r="4.9"/><circle cx="264.1" cy="706" r="4.9"/><circle cx="266.5" cy="706.4" r="4.9"/><circle cx="269" cy="706.6" r="4.9"/><circle cx="271.5" cy="706.5" r="4.9"/><circle cx="274" cy="706.1" r="4.9"/><circle cx="276.4" cy="705.5" r="4.9"/><circle cx="278.8" cy="704.7" r="4.9"/><circle cx="281.1" cy="703.7" r="4.9"/><circle cx="283.4" cy="702.8" r="4.9"/><circle cx="285.8" cy="701.9" r="4.9"/><circle cx="288.1" cy="700.9" r="4.9"/><circle cx="290.3" cy="699.9" r="4.9"/><circle cx="292.6" cy="698.8" r="4.9"/><circle cx="294.8" cy="697.6" r="4.9"/><circle cx="296.9" cy="696.3" r="4.9"/><circle cx="299" cy="695" r="4.9"/><circle cx="301.1" cy="693.5" r="4.9"/><circle cx="303.1" cy="692.1" r="4.9"/><circle cx="305.1" cy="690.6" r="4.9"/><circle cx="307.2" cy="689.2" r="4.9"/><circle cx="309.2" cy="687.7" r="4.9"/><circle cx="311.2" cy="686.3" r="4.9"/><circle cx="313.3" cy="684.8" r="4.9"/><circle cx="315.3" cy="683.4" r="4.9"/><circle cx="317.4" cy="681.9" r="4.9"/><circle cx="319.4" cy="680.5" r="4.9"/><circle cx="321.5" cy="679.1" r="4.9"/><circle cx="323.5" cy="677.6" r="4.9"/><circle cx="325.6" cy="676.2" r="4.9"/><circle cx="339.3" cy="661.6" r="4.9"/></g>
<path d="M773.3,660 V474.6 M787.8,660 V474.6 M860.4,660 V474.6 M933.1,660 V474.6 M1005.7,660 V474.6 M1078.3,660 V474.6 M773.3,652.9 H1150.9 M773.3,617.2 H1150.9 M773.3,581.6 H1150.9 M773.3,545.9 H1150.9 M773.3,510.3 H1150.9 M773.3,474.6 H1150.9 M764.7,672 H1142.3 M747.5,695.9 H1125.1 M730.3,719.8 H1107.9 M713.1,743.6 H1090.7 M695.9,767.5 H1073.5 M678.7,791.5 H1056.3 M661.5,815.4 H1039.1 M773.3,660 L652.9,827.3 M787.8,660 L667.4,827.3 M860.4,660 L740,827.3 M933.1,660 L812.7,827.3 M1005.7,660 L885.3,827.3 M1078.3,660 L957.9,827.3 M764.7,672 V486.6 M747.5,695.9 V510.5 M730.3,719.8 V534.4 M713.1,743.6 V558.3 M695.9,767.5 V582.2 M678.7,791.5 V606.1 M661.5,815.4 V630 M773.3,652.9 L652.9,820.2 M773.3,617.2 L652.9,784.5 M773.3,581.6 L652.9,748.9 M773.3,545.9 L652.9,713.2 M773.3,510.3 L652.9,677.6 " stroke="#a9a9a9" stroke-width="1" fill="none"/>
<path d="M773.3,474.6 L652.9,641.9" stroke="#e2e2e2" stroke-width="1" fill="none"/>
<path d="M1150.9,660 V474.6 M1150.9,660 L1030.5,827.3 M652.9,827.3 H1030.5 M652.9,827.3 V641.9 M1150.9,652.9 H1156.9 M1150.9,617.2 H1156.9 M1150.9,581.6 H1156.9 M1150.9,545.9 H1156.9 M1150.9,510.3 H1156.9 M1150.9,474.6 H1156.9 M1142.3,672 H1148.3 M1125.1,695.9 H1131.1 M1107.9,719.8 H1113.9 M1090.7,743.6 H1096.7 M1073.5,767.5 H1079.5 M1056.3,791.5 H1062.3 M1039.1,815.4 H1045.1 M667.4,827.3 V832.3 M740,827.3 V832.3 M812.7,827.3 V832.3 M885.3,827.3 V832.3 M957.9,827.3 V832.3 M1030.5,827.3 V832.3 " stroke="#3a3a3a" stroke-width="1.3" fill="none"/>
<text x="1171.6" y="660.1" font-size="20" stroke="#000">0</text>
<text x="1171.6" y="624.4" font-size="20" stroke="#000">100</text>
<text x="1171.6" y="588.8" font-size="20" stroke="#000">200</text>
<text x="1171.6" y="553.1" font-size="20" stroke="#000">300</text>
<text x="1171.6" y="517.5" font-size="20" stroke="#000">400</text>
<text x="1171.6" y="481.8" font-size="20" stroke="#000">500</text>
<text x="1156.7" y="678.9" font-size="16.5" font-style="italic" stroke="#000">OCV</text>
<text x="1139.5" y="702.8" font-size="16.5" font-style="italic" stroke="#000">Ch-3.0V</text>
<text x="1122.3" y="726.6" font-size="16.5" font-style="italic" stroke="#000">Ch-3.75V</text>
<text x="1105.1" y="750.5" font-size="16.5" font-style="italic" stroke="#000">Ch-3.92V</text>
<text x="1087.9" y="774.4" font-size="16.5" font-style="italic" stroke="#000">Dis-3.5V</text>
<text x="1070.7" y="798.4" font-size="16.5" font-style="italic" stroke="#000">Dis-3.0V</text>
<text x="1053.5" y="822.2" font-size="16.5" font-style="italic" stroke="#000">Dis-1.5V</text>
<text x="667.4" y="851" font-size="20" text-anchor="middle" stroke="#000">0</text>
<text x="740" y="851" font-size="20" text-anchor="middle" stroke="#000">100</text>
<text x="812.7" y="851" font-size="20" text-anchor="middle" stroke="#000">200</text>
<text x="885.3" y="851" font-size="20" text-anchor="middle" stroke="#000">300</text>
<text x="957.9" y="851" font-size="20" text-anchor="middle" stroke="#000">400</text>
<text x="1030.5" y="851" font-size="20" text-anchor="middle" stroke="#000">500</text>
<text x="841.3" y="878.5" font-size="22.5" text-anchor="middle" stroke="#000">Z' (ohm)</text>
<text transform="translate(1239.7,580.5) rotate(-90)" font-size="23" text-anchor="middle" stroke="#000">Z" (ohm)</text>
<text x="651.2" y="487.3" font-size="29" stroke="#000">d</text>
<path d="M780.3,667.5 L780.4,667.2 L780.6,666.8 L780.7,666.3 L780.9,665.8 L781.1,665.2 L781.3,664.6 L781.6,664 L781.8,663.3 L782.1,662.7 L782.4,662.1 L782.7,661.5 L783,661 L783.3,660.5 L783.7,660 L784.1,659.5 L784.5,659 L784.9,658.5 L785.3,658.1 L785.7,657.6 L786.2,657.1 L786.6,656.7 L787.1,656.2 L787.6,655.8 L788.1,655.3 L788.6,654.8 L789.1,654.4 L789.7,653.9 L790.2,653.4 L790.8,653 L791.3,652.5 L791.9,652.1 L792.5,651.6 L793.1,651.2 L793.7,650.8 L794.4,650.4 L795,650 L795.7,649.6 L796.4,649.3 L797.2,648.9 L798,648.6 L798.9,648.2 L799.7,647.9 L800.5,647.6 L801.2,647.3 L801.9,647.1 L802.6,646.9 L803.1,646.7 L803.5,646.5 L810,644 L810.8,643.8 L811.7,643.6 L812.8,643.4 L814.1,643.1 L815.5,642.8 L816.9,642.5 L818.4,642.2 L819.9,641.9 L821.4,641.7 L822.9,641.4 L824.3,641.2 L825.6,641 L826.8,640.9 L828,640.7 L829.2,640.7 L830.3,640.6 L831.5,640.5 L832.6,640.5 L833.8,640.5 L834.9,640.4 L836.1,640.4 L837.4,640.4 L838.7,640.3 L840,640.3 L841.4,640.3 L842.8,640.2 L844.3,640.2 L845.8,640.1 L847.4,640.1 L848.9,640.1 L850.5,640.1 L852.1,640 L853.7,640 L855.4,640 L857,639.9 L858.7,639.9 L860.4,639.9 L862.1,639.8 L863.9,639.8 L865.7,639.8 L867.6,639.8 L869.4,639.8 L871.2,639.7 L873.1,639.7 L874.9,639.7 L876.6,639.6 L878.3,639.6 L880,639.5 L881.6,639.4 L883.2,639.3 L884.7,639.2 L886.2,639.1 L887.6,638.9 L889.1,638.8 L890.5,638.6 L891.9,638.5 L893.4,638.4 L894.8,638.2 L896.2,638.1 L897.7,638 L899.2,637.9 L900.6,637.8 L902,637.8 L903.4,637.7 L904.8,637.6 L906.2,637.6 L907.6,637.5 L909,637.4 L910.5,637.4 L912.1,637.3 L913.6,637.2 L915.3,637.1 L917,637 L918.9,636.8 L920.8,636.7 L922.7,636.5 L924.7,636.3 L926.7,636.2 L928.7,636 L930.7,635.8 L932.7,635.7 L934.6,635.5 L936.5,635.4 L938.3,635.3 L940,635.2 L941.7,635.2 L943.4,635.1 L945,635.1 L946.6,635 L948.2,635 L949.8,635 L951.4,635 L952.9,635 L954.5,635 L956.1,635 L957.7,635 L959.3,635 L961,635 L962.6,635 L964.3,635 L965.9,635 L967.6,635 L969.2,635 L970.8,635.1 L972.5,635.1 L974.1,635.2 L975.6,635.2 L977.2,635.3 L978.8,635.4 L980.4,635.5 L982.1,635.7 L983.9,635.9 L985.6,636 L987.2,636.2 L988.8,636.4 L990.3,636.6 L991.7,636.7 L992.9,636.9 L994,637 L994.8,637.1 L1001,638.5 L1001.6,638.6 L1002.3,638.7 L1003.1,638.9 L1004.1,639.1 L1005.1,639.3 L1006.2,639.5 L1007.3,639.7 L1008.5,639.9 L1009.6,640.1 L1010.6,640.3 L1011.6,640.4 L1012.5,640.6 L1013.3,640.7 L1014.1,640.9 L1014.8,641 L1015.5,641.2 L1016.2,641.3 L1016.9,641.4 L1017.6,641.5 L1018.2,641.6 L1018.9,641.7 L1019.6,641.8 L1020.3,641.9 L1021,642 L1021.7,642.1 L1022.5,642.1 L1023.2,642.2 L1024,642.3 L1024.8,642.3 L1025.5,642.4 L1026.3,642.4 L1027.1,642.4 L1027.8,642.4 L1028.6,642.4 L1029.4,642.4 L1030.2,642.4 L1031,642.4 L1031.8,642.3 L1032.7,642.2 L1033.5,642.2 L1034.3,642.1 L1035.2,642 L1036,641.9 L1036.9,641.7 L1037.7,641.6 L1038.5,641.5 L1039.3,641.3 L1040,641.2 L1040.7,641 L1041.4,640.9 L1042.1,640.7 L1042.8,640.5 L1043.4,640.3 L1044.1,640.1 L1044.7,639.9 L1045.3,639.7 L1045.9,639.5 L1046.6,639.3 L1047.2,639.1 L1047.8,638.9 L1048.4,638.7 L1049,638.5 L1049.7,638.3 L1050.3,638.1 L1050.9,637.9 L1051.5,637.7 L1052.1,637.5 L1052.7,637.3 L1053.3,637.1 L1053.9,636.9 L1054.4,636.7 L1055,636.5 L1055.6,636.3 L1056.2,636.1 L1056.8,636 L1057.4,635.8 L1058,635.6 L1058.6,635.5 L1059.2,635.3 L1059.7,635.1 L1060.2,635 L1060.6,634.9 L1061,634.8 L1061.3,634.7 L1069.3,631.6 L1075.9,626.3 L1082.5,621.5 L1088.6,615.7 L1097.6,608.8 L1107.7,599.8 L1119.6,589.7 L1132,576 L1141.5,565.9" fill="none" stroke="#000000" stroke-width="1"/>
<g fill="#000000"><circle cx="780.3" cy="667.5" r="4.9"/><circle cx="781.5" cy="664.2" r="4.9"/><circle cx="783" cy="661" r="4.9"/><circle cx="785.1" cy="658.3" r="4.9"/><circle cx="787.6" cy="655.8" r="4.9"/><circle cx="790.2" cy="653.5" r="4.9"/><circle cx="792.9" cy="651.3" r="4.9"/><circle cx="795.9" cy="649.5" r="4.9"/><circle cx="799.2" cy="648.1" r="4.9"/><circle cx="802.4" cy="646.9" r="4.9"/><circle cx="810" cy="644" r="4.9"/><circle cx="819.3" cy="642.1" r="4.9"/><circle cx="828.7" cy="640.7" r="4.9"/><circle cx="838.2" cy="640.4" r="4.9"/><circle cx="847.7" cy="640.1" r="4.9"/><circle cx="857.2" cy="639.9" r="4.9"/><circle cx="866.7" cy="639.8" r="4.9"/><circle cx="876.2" cy="639.6" r="4.9"/><circle cx="885.7" cy="639.1" r="4.9"/><circle cx="895.1" cy="638.2" r="4.9"/><circle cx="904.6" cy="637.6" r="4.9"/><circle cx="914.1" cy="637.2" r="4.9"/><circle cx="923.6" cy="636.4" r="4.9"/><circle cx="933" cy="635.6" r="4.9"/><circle cx="942.5" cy="635.1" r="4.9"/><circle cx="952" cy="635" r="4.9"/><circle cx="961.5" cy="635" r="4.9"/><circle cx="971" cy="635.1" r="4.9"/><circle cx="980.5" cy="635.5" r="4.9"/><circle cx="989.9" cy="636.5" r="4.9"/><circle cx="994.8" cy="637.1" r="4.9"/><circle cx="1001" cy="638.5" r="4.9"/><circle cx="1004" cy="639" r="4.9"/><circle cx="1006.9" cy="639.6" r="4.9"/><circle cx="1009.9" cy="640.1" r="4.9"/><circle cx="1012.8" cy="640.7" r="4.9"/><circle cx="1015.8" cy="641.2" r="4.9"/><circle cx="1018.7" cy="641.7" r="4.9"/><circle cx="1021.7" cy="642.1" r="4.9"/><circle cx="1024.7" cy="642.3" r="4.9"/><circle cx="1027.7" cy="642.4" r="4.9"/><circle cx="1030.7" cy="642.4" r="4.9"/><circle cx="1033.7" cy="642.1" r="4.9"/><circle cx="1036.6" cy="641.8" r="4.9"/><circle cx="1039.6" cy="641.3" r="4.9"/><circle cx="1042.5" cy="640.6" r="4.9"/><circle cx="1045.4" cy="639.7" r="4.9"/><circle cx="1048.2" cy="638.8" r="4.9"/><circle cx="1051.1" cy="637.8" r="4.9"/><circle cx="1053.9" cy="636.8" r="4.9"/><circle cx="1056.8" cy="636" r="4.9"/><circle cx="1059.7" cy="635.2" r="4.9"/><circle cx="1061.3" cy="634.7" r="4.9"/><circle cx="1069.3" cy="631.6" r="4.9"/><circle cx="1075.9" cy="626.3" r="4.9"/><circle cx="1082.5" cy="621.5" r="4.9"/><circle cx="1088.6" cy="615.7" r="4.9"/><circle cx="1097.6" cy="608.8" r="4.9"/><circle cx="1107.7" cy="599.8" r="4.9"/><circle cx="1119.6" cy="589.7" r="4.9"/><circle cx="1132" cy="576" r="4.9"/></g>
<path d="M676.7,806.9 L677.4,806.5 L678.1,806 L679,805.4 L680,804.7 L681.1,804 L682.3,803.2 L683.5,802.5 L684.9,801.7 L686.3,801 L687.9,800.3 L689.4,799.6 L691.1,799.1 L692.9,798.6 L694.8,798.2 L696.8,797.9 L698.9,797.5 L701.1,797.2 L703.4,796.9 L705.7,796.6 L708,796.4 L710.3,796.1 L712.6,795.8 L714.9,795.5 L717.1,795.2 L719.3,794.9 L721.5,794.6 L723.8,794.2 L726,793.9 L728.3,793.6 L730.6,793.3 L732.8,792.9 L735,792.6 L737.1,792.3 L739.2,792 L741.3,791.6 L743.2,791.3 L745.1,791 L746.9,790.7 L748.7,790.4 L750.4,790.1 L752.1,789.8 L753.8,789.5 L755.4,789.2 L756.9,788.9 L758.4,788.6 L759.9,788.2 L761.3,787.8 L762.7,787.3 L764,786.8 L765.3,786.2 L766.4,785.7 L767.5,785.1 L768.6,784.5 L769.7,783.8 L770.7,783.1 L771.7,782.4 L772.7,781.7 L773.7,781 L774.7,780.3 L775.8,779.5 L776.9,778.7 L778,777.9 L779.2,777 L780.4,776 L781.6,775.1 L782.7,774.1 L783.8,773.2 L785,772.3 L786,771.4 L787,770.6 L787.9,769.8 L788.8,769.1 L789.6,768.5 L790.3,767.9 L791,767.3 L791.7,766.8 L792.3,766.3 L792.9,765.9 L793.4,765.4 L793.9,765.1 L794.3,764.7 L794.7,764.4 L795,764.1 L795.3,763.9 L805,752 L816.2,737.8 L840.1,707.7 L858.7,689.8 L887.2,664" fill="none" stroke="#f9d3d3" stroke-width="1"/>
<g fill="#f9d3d3"><circle cx="676.7" cy="806.9" r="4.9"/><circle cx="678.8" cy="805.6" r="4.9"/><circle cx="680.9" cy="804.2" r="4.9"/><circle cx="683" cy="802.8" r="4.9"/><circle cx="685.2" cy="801.6" r="4.9"/><circle cx="687.4" cy="800.5" r="4.9"/><circle cx="689.7" cy="799.5" r="4.9"/><circle cx="692.1" cy="798.8" r="4.9"/><circle cx="694.6" cy="798.3" r="4.9"/><circle cx="697" cy="797.8" r="4.9"/><circle cx="699.5" cy="797.4" r="4.9"/><circle cx="702" cy="797.1" r="4.9"/><circle cx="704.4" cy="796.8" r="4.9"/><circle cx="706.9" cy="796.5" r="4.9"/><circle cx="709.4" cy="796.2" r="4.9"/><circle cx="711.9" cy="795.9" r="4.9"/><circle cx="714.4" cy="795.6" r="4.9"/><circle cx="716.8" cy="795.2" r="4.9"/><circle cx="719.3" cy="794.9" r="4.9"/><circle cx="721.8" cy="794.5" r="4.9"/><circle cx="724.3" cy="794.2" r="4.9"/><circle cx="726.7" cy="793.8" r="4.9"/><circle cx="729.2" cy="793.4" r="4.9"/><circle cx="731.7" cy="793.1" r="4.9"/><circle cx="734.2" cy="792.7" r="4.9"/><circle cx="736.6" cy="792.4" r="4.9"/><circle cx="739.1" cy="792" r="4.9"/><circle cx="741.6" cy="791.6" r="4.9"/><circle cx="744" cy="791.2" r="4.9"/><circle cx="746.5" cy="790.7" r="4.9"/><circle cx="749" cy="790.4" r="4.9"/><circle cx="751.4" cy="789.9" r="4.9"/><circle cx="753.9" cy="789.5" r="4.9"/><circle cx="756.4" cy="789" r="4.9"/><circle cx="758.8" cy="788.5" r="4.9"/><circle cx="761.2" cy="787.8" r="4.9"/><circle cx="763.6" cy="787" r="4.9"/><circle cx="765.8" cy="786" r="4.9"/><circle cx="768" cy="784.8" r="4.9"/><circle cx="770.2" cy="783.5" r="4.9"/><circle cx="772.2" cy="782" r="4.9"/><circle cx="774.3" cy="780.6" r="4.9"/><circle cx="776.3" cy="779.1" r="4.9"/><circle cx="778.3" cy="777.7" r="4.9"/><circle cx="780.3" cy="776.1" r="4.9"/><circle cx="782.2" cy="774.5" r="4.9"/><circle cx="784.1" cy="772.9" r="4.9"/><circle cx="786.1" cy="771.3" r="4.9"/><circle cx="788" cy="769.8" r="4.9"/><circle cx="789.9" cy="768.2" r="4.9"/><circle cx="791.9" cy="766.6" r="4.9"/><circle cx="793.8" cy="765.1" r="4.9"/><circle cx="795.3" cy="763.9" r="4.9"/><circle cx="805" cy="752" r="4.9"/><circle cx="816.2" cy="737.8" r="4.9"/><circle cx="840.1" cy="707.7" r="4.9"/><circle cx="858.7" cy="689.8" r="4.9"/><circle cx="887.2" cy="664" r="4.9"/></g>
<path d="M693.7,784.7 L693.9,784.4 L694.1,784.1 L694.4,783.7 L694.7,783.3 L695.1,782.8 L695.5,782.3 L695.9,781.7 L696.3,781.2 L696.7,780.7 L697.1,780.3 L697.6,779.9 L698,779.5 L698.4,779.2 L698.7,778.9 L698.9,778.6 L699.2,778.4 L699.4,778.2 L699.7,778 L700,777.8 L700.5,777.6 L701.1,777.4 L701.9,777.2 L702.9,777.1 L704.1,776.9 L705.6,776.7 L707.3,776.5 L709.2,776.3 L711.2,776.1 L713.4,775.9 L715.7,775.7 L718.1,775.5 L720.6,775.4 L723,775.3 L725.5,775.4 L727.9,775.4 L730.2,775.6 L732.6,775.9 L735,776.4 L737.6,776.9 L740.3,777.6 L742.9,778.3 L745.6,779.1 L748.1,779.8 L750.6,780.5 L753,781.1 L755.1,781.6 L757.1,781.9 L758.8,782.1 L760.3,782.1 L761.5,782 L762.5,781.8 L763.4,781.4 L764.1,781 L764.7,780.6 L765.2,780.1 L765.8,779.5 L766.3,779 L766.8,778.5 L767.3,778 L768,777.5 L768.7,777 L769.5,776.5 L770.2,776 L771,775.4 L771.7,774.9 L772.5,774.3 L773.2,773.8 L773.8,773.2 L774.4,772.8 L775,772.3 L775.4,772 L775.8,771.7" fill="none" stroke="#f47c7c" stroke-width="1"/>
<g fill="#f47c7c"><circle cx="693.7" cy="784.7" r="4.9"/><circle cx="695.2" cy="782.7" r="4.9"/><circle cx="696.7" cy="780.7" r="4.9"/><circle cx="698.6" cy="779" r="4.9"/><circle cx="700.5" cy="777.6" r="4.9"/><circle cx="703" cy="777" r="4.9"/><circle cx="705.5" cy="776.7" r="4.9"/><circle cx="707.9" cy="776.4" r="4.9"/><circle cx="710.4" cy="776.2" r="4.9"/><circle cx="712.9" cy="775.9" r="4.9"/><circle cx="715.4" cy="775.7" r="4.9"/><circle cx="717.9" cy="775.5" r="4.9"/><circle cx="720.4" cy="775.4" r="4.9"/><circle cx="722.9" cy="775.3" r="4.9"/><circle cx="725.4" cy="775.4" r="4.9"/><circle cx="727.9" cy="775.4" r="4.9"/><circle cx="730.4" cy="775.6" r="4.9"/><circle cx="732.9" cy="776" r="4.9"/><circle cx="735.3" cy="776.4" r="4.9"/><circle cx="737.8" cy="777" r="4.9"/><circle cx="740.2" cy="777.6" r="4.9"/><circle cx="742.6" cy="778.2" r="4.9"/><circle cx="745" cy="778.9" r="4.9"/><circle cx="747.4" cy="779.6" r="4.9"/><circle cx="749.8" cy="780.2" r="4.9"/><circle cx="752.2" cy="780.9" r="4.9"/><circle cx="754.7" cy="781.5" r="4.9"/><circle cx="757.1" cy="781.9" r="4.9"/><circle cx="759.6" cy="782.1" r="4.9"/><circle cx="762.1" cy="781.8" r="4.9"/><circle cx="764.4" cy="780.8" r="4.9"/><circle cx="766.2" cy="779.1" r="4.9"/><circle cx="768" cy="777.5" r="4.9"/><circle cx="770.1" cy="776.1" r="4.9"/><circle cx="772.1" cy="774.6" r="4.9"/><circle cx="774.1" cy="773" r="4.9"/><circle cx="775.8" cy="771.7" r="4.9"/></g>
<path d="M710.6,761.3 L710.9,761 L711.2,760.6 L711.5,760.1 L711.9,759.6 L712.4,759 L712.8,758.4 L713.3,757.8 L713.8,757.2 L714.4,756.6 L714.9,756 L715.5,755.5 L716,755 L716.5,754.6 L717,754.2 L717.5,753.8 L717.9,753.4 L718.4,753 L718.9,752.6 L719.5,752.3 L720.1,752 L720.8,751.7 L721.6,751.4 L722.5,751.1 L723.6,750.9 L724.8,750.7 L726.1,750.4 L727.5,750.2 L729,750 L730.6,749.9 L732.2,749.7 L733.9,749.6 L735.7,749.5 L737.5,749.4 L739.4,749.4 L741.3,749.4 L743.2,749.5 L745.2,749.6 L747.4,749.9 L749.7,750.1 L752.1,750.4 L754.6,750.8 L757.1,751.2 L759.5,751.6 L761.9,752 L764.2,752.4 L766.3,752.8 L768.3,753.2 L770,753.5 L771.5,753.9 L772.9,754.3 L774.1,754.7 L775.1,755.2 L776.1,755.7 L777,756.1 L777.9,756.5 L778.7,756.9 L779.5,757.2 L780.4,757.4 L781.3,757.4 L782.3,757.4 L783.4,757.2 L784.5,757 L785.6,756.7 L786.7,756.2 L787.8,755.8 L788.9,755.2 L790,754.6 L791.1,753.9 L792.2,753.2 L793.3,752.5 L794.3,751.7 L795.3,750.9 L796.3,750 L797.3,748.9 L798.3,747.8 L799.4,746.5 L800.4,745.2 L801.4,743.9 L802.3,742.7 L803.2,741.4 L804,740.3 L804.7,739.3 L805.3,738.5 L805.8,737.8" fill="none" stroke="#f24e4e" stroke-width="1"/>
<g fill="#f24e4e"><circle cx="710.6" cy="761.3" r="4.9"/><circle cx="712.1" cy="759.3" r="4.9"/><circle cx="713.7" cy="757.4" r="4.9"/><circle cx="715.4" cy="755.5" r="4.9"/><circle cx="717.3" cy="753.9" r="4.9"/><circle cx="719.3" cy="752.4" r="4.9"/><circle cx="721.6" cy="751.4" r="4.9"/><circle cx="724" cy="750.8" r="4.9"/><circle cx="726.5" cy="750.4" r="4.9"/><circle cx="728.9" cy="750" r="4.9"/><circle cx="731.4" cy="749.8" r="4.9"/><circle cx="733.9" cy="749.6" r="4.9"/><circle cx="736.4" cy="749.4" r="4.9"/><circle cx="738.9" cy="749.4" r="4.9"/><circle cx="741.4" cy="749.4" r="4.9"/><circle cx="743.9" cy="749.6" r="4.9"/><circle cx="746.4" cy="749.8" r="4.9"/><circle cx="748.9" cy="750" r="4.9"/><circle cx="751.4" cy="750.3" r="4.9"/><circle cx="753.8" cy="750.7" r="4.9"/><circle cx="756.3" cy="751.1" r="4.9"/><circle cx="758.8" cy="751.4" r="4.9"/><circle cx="761.2" cy="751.9" r="4.9"/><circle cx="763.7" cy="752.3" r="4.9"/><circle cx="766.2" cy="752.8" r="4.9"/><circle cx="768.6" cy="753.2" r="4.9"/><circle cx="771.1" cy="753.8" r="4.9"/><circle cx="773.4" cy="754.5" r="4.9"/><circle cx="775.7" cy="755.5" r="4.9"/><circle cx="778" cy="756.6" r="4.9"/><circle cx="780.4" cy="757.3" r="4.9"/><circle cx="782.8" cy="757.3" r="4.9"/><circle cx="785.3" cy="756.7" r="4.9"/><circle cx="787.6" cy="755.8" r="4.9"/><circle cx="789.8" cy="754.7" r="4.9"/><circle cx="792" cy="753.4" r="4.9"/><circle cx="794" cy="751.9" r="4.9"/><circle cx="795.9" cy="750.3" r="4.9"/><circle cx="797.7" cy="748.6" r="4.9"/><circle cx="799.3" cy="746.7" r="4.9"/><circle cx="800.8" cy="744.7" r="4.9"/><circle cx="802.3" cy="742.7" r="4.9"/><circle cx="803.7" cy="740.6" r="4.9"/><circle cx="805.2" cy="738.6" r="4.9"/></g>
<path d="M762.7,692.9 L762.9,692.6 L763.2,692.1 L763.5,691.6 L763.8,691.1 L764.2,690.5 L764.5,689.8 L764.9,689.2 L765.4,688.5 L765.8,687.8 L766.2,687.2 L766.6,686.6 L767,686 L767.4,685.5 L767.8,684.9 L768.1,684.4 L768.5,683.9 L768.9,683.4 L769.3,682.9 L769.7,682.4 L770.1,681.9 L770.5,681.4 L771,681 L771.5,680.5 L772,680 L772.6,679.5 L773.1,679 L773.8,678.6 L774.4,678.1 L775.1,677.6 L775.8,677.2 L776.4,676.7 L777.1,676.2 L777.8,675.8 L778.5,675.4 L779.2,675 L779.9,674.6 L780.6,674.2 L781.2,673.9 L781.8,673.6 L782.5,673.2 L783.1,672.9 L783.8,672.7 L784.4,672.4 L785.1,672.1 L785.8,671.8 L786.5,671.5 L787.3,671.3 L788.1,671 L788.9,670.7 L789.8,670.4 L790.7,670.2 L791.6,669.9 L792.5,669.6 L793.5,669.4 L794.5,669.1 L795.5,668.8 L796.5,668.6 L797.5,668.4 L798.6,668.2 L799.7,668 L800.8,667.8 L802,667.7 L803.3,667.6 L804.5,667.4 L805.8,667.3 L807.1,667.2 L808.5,667.2 L809.8,667.1 L811,667 L812.3,666.9 L813.5,666.9 L814.6,666.8 L815.7,666.7 L816.6,666.7 L817.5,666.6 L818.3,666.5 L819.2,666.5 L820,666.4 L820.8,666.4 L821.7,666.4 L822.7,666.3 L823.7,666.3 L824.9,666.3 L826.2,666.3 L827.7,666.3 L829.5,666.3 L831.4,666.4 L833.4,666.4 L835.5,666.5 L837.7,666.5 L839.8,666.6 L841.8,666.6 L843.6,666.7 L845.2,666.7 L846.6,666.8 L847.7,666.8 L855,667.5 L855.5,667.6 L856.2,667.7 L856.9,667.8 L857.7,667.9 L858.7,668.1 L859.6,668.2 L860.6,668.4 L861.7,668.6 L862.8,668.8 L863.9,668.9 L864.9,669.1 L866,669.3 L867,669.5 L868,669.7 L869,669.9 L870,670.1 L871,670.4 L872,670.6 L873.1,670.9 L874.3,671.1 L875.6,671.3 L876.9,671.5 L878.4,671.7 L880,671.9 L881.8,672.1 L883.8,672.2 L885.9,672.3 L888.2,672.4 L890.6,672.6 L893,672.7 L895.4,672.8 L897.8,672.9 L900.2,673 L902.4,673.1 L904.5,673.2 L906.5,673.4 L908.3,673.6 L910.1,673.7 L911.7,673.9 L913.3,674.1 L914.8,674.3 L916.3,674.5 L917.8,674.7 L919.2,674.9 L920.6,675.1 L922,675.4 L923.3,675.6 L924.7,675.9 L926,676.2 L927.3,676.5 L928.5,676.9 L929.7,677.3 L930.9,677.7 L932,678.1 L933.2,678.5 L934.4,678.9 L935.6,679.2 L936.9,679.6 L938.2,680 L939.6,680.3 L941.1,680.6 L942.7,681 L944.4,681.4 L946.1,681.9 L947.8,682.3 L949.6,682.6 L951.4,683 L953.1,683.3 L954.8,683.5 L956.5,683.6 L958,683.6 L959.5,683.5 L960.9,683.2 L962.2,682.9 L963.6,682.4 L964.8,681.8 L966,681.1 L967.2,680.4 L968.4,679.6 L969.5,678.9 L970.6,678.1 L971.6,677.4 L972.6,676.6 L973.6,676 L974.6,675.4 L975.5,674.7 L976.4,674 L977.3,673.3 L978.1,672.7 L978.9,672 L979.7,671.3 L980.4,670.7 L981,670.2 L981.6,669.7 L982.1,669.2 L982.5,668.9" fill="none" stroke="#5a0006" stroke-width="1"/>
<g fill="#5a0006"><circle cx="762.7" cy="692.9" r="4.9"/><circle cx="766.1" cy="687.3" r="4.9"/><circle cx="769.9" cy="682.1" r="4.9"/><circle cx="774.8" cy="677.8" r="4.9"/><circle cx="780.3" cy="674.4" r="4.9"/><circle cx="786.2" cy="671.7" r="4.9"/><circle cx="792.4" cy="669.7" r="4.9"/><circle cx="798.7" cy="668.2" r="4.9"/><circle cx="805.2" cy="667.4" r="4.9"/><circle cx="811.6" cy="667" r="4.9"/><circle cx="818.1" cy="666.6" r="4.9"/><circle cx="824.6" cy="666.3" r="4.9"/><circle cx="831.1" cy="666.4" r="4.9"/><circle cx="837.6" cy="666.5" r="4.9"/><circle cx="844.1" cy="666.7" r="4.9"/><circle cx="847.7" cy="666.8" r="4.9"/><circle cx="855" cy="667.5" r="4.9"/><circle cx="858" cy="668" r="4.9"/><circle cx="860.9" cy="668.4" r="4.9"/><circle cx="863.9" cy="668.9" r="4.9"/><circle cx="866.8" cy="669.5" r="4.9"/><circle cx="869.8" cy="670.1" r="4.9"/><circle cx="872.7" cy="670.8" r="4.9"/><circle cx="875.6" cy="671.3" r="4.9"/><circle cx="878.6" cy="671.7" r="4.9"/><circle cx="881.6" cy="672" r="4.9"/><circle cx="884.6" cy="672.2" r="4.9"/><circle cx="887.6" cy="672.4" r="4.9"/><circle cx="890.6" cy="672.6" r="4.9"/><circle cx="893.6" cy="672.7" r="4.9"/><circle cx="896.6" cy="672.8" r="4.9"/><circle cx="899.6" cy="673" r="4.9"/><circle cx="902.6" cy="673.1" r="4.9"/><circle cx="905.6" cy="673.3" r="4.9"/><circle cx="908.5" cy="673.6" r="4.9"/><circle cx="911.5" cy="673.9" r="4.9"/><circle cx="914.5" cy="674.2" r="4.9"/><circle cx="917.5" cy="674.6" r="4.9"/><circle cx="920.5" cy="675.1" r="4.9"/><circle cx="923.4" cy="675.6" r="4.9"/><circle cx="926.3" cy="676.3" r="4.9"/><circle cx="929.2" cy="677.1" r="4.9"/><circle cx="932.1" cy="678.1" r="4.9"/><circle cx="934.9" cy="679" r="4.9"/><circle cx="937.8" cy="679.9" r="4.9"/><circle cx="940.7" cy="680.6" r="4.9"/><circle cx="943.6" cy="681.3" r="4.9"/><circle cx="946.5" cy="682" r="4.9"/><circle cx="949.5" cy="682.6" r="4.9"/><circle cx="952.4" cy="683.2" r="4.9"/><circle cx="955.4" cy="683.5" r="4.9"/><circle cx="958.4" cy="683.6" r="4.9"/><circle cx="961.3" cy="683.1" r="4.9"/><circle cx="964.2" cy="682.1" r="4.9"/><circle cx="966.8" cy="680.7" r="4.9"/><circle cx="969.3" cy="679" r="4.9"/><circle cx="971.7" cy="677.3" r="4.9"/><circle cx="974.2" cy="675.6" r="4.9"/><circle cx="976.7" cy="673.8" r="4.9"/><circle cx="979" cy="671.9" r="4.9"/><circle cx="981.2" cy="670" r="4.9"/><circle cx="982.5" cy="668.9" r="4.9"/></g>
<path d="M746.1,716 L746.3,715.7 L746.5,715.2 L746.8,714.7 L747.1,714.1 L747.4,713.5 L747.7,712.8 L748.1,712.1 L748.5,711.5 L748.9,710.8 L749.2,710.1 L749.6,709.5 L750,709 L750.4,708.5 L750.7,708.1 L751.1,707.6 L751.4,707.2 L751.8,706.8 L752.1,706.4 L752.5,706 L752.9,705.6 L753.4,705.2 L753.8,704.8 L754.3,704.4 L754.9,703.9 L755.5,703.4 L756.2,702.9 L756.9,702.3 L757.6,701.7 L758.4,701.2 L759.2,700.6 L760,700 L760.8,699.4 L761.6,698.9 L762.4,698.4 L763.2,697.9 L764,697.5 L764.8,697.1 L765.5,696.8 L766.2,696.5 L767,696.2 L767.7,695.9 L768.4,695.7 L769.2,695.5 L769.9,695.3 L770.7,695 L771.5,694.8 L772.3,694.6 L773.2,694.4 L774.1,694.2 L775,693.9 L775.9,693.7 L776.8,693.5 L777.8,693.3 L778.8,693.1 L779.7,692.9 L780.8,692.7 L781.8,692.5 L782.8,692.3 L783.9,692.1 L785,692 L786.2,691.9 L787.5,691.7 L788.8,691.6 L790.2,691.5 L791.7,691.4 L793.1,691.4 L794.5,691.3 L795.8,691.2 L797,691.1 L798.1,691.1 L799,691 L799.7,691 L806,691.5 L807.6,691.8 L809.6,692.1 L811.9,692.5 L814.4,692.9 L817.2,693.4 L820.2,693.9 L823.3,694.4 L826.6,695 L829.8,695.5 L833.1,696 L836.4,696.6 L839.5,697.1 L842.7,697.6 L846.1,698.2 L849.6,698.8 L853.2,699.4 L856.9,700 L860.6,700.6 L864.2,701.2 L867.8,701.7 L871.2,702.3 L874.4,702.8 L877.3,703.3 L880,703.7 L882.4,704.1 L884.6,704.5 L886.5,704.9 L888.3,705.3 L890,705.7 L891.6,706 L893,706.3 L894.4,706.5 L895.8,706.7 L897.1,706.8 L898.5,706.8 L899.9,706.7 L901.3,706.5 L902.7,706.3 L904,706 L905.2,705.6 L906.5,705.1 L907.7,704.6 L908.8,704.1 L910,703.5 L911.2,702.8 L912.4,702.1 L913.6,701.4 L914.8,700.7 L916.1,699.9 L917.4,699.1 L918.7,698.2 L920,697.3 L921.3,696.4 L922.6,695.4 L923.9,694.3 L925.2,693.3 L926.4,692.2 L927.6,691.1 L928.7,690 L929.7,688.8 L930.7,687.6 L931.6,686.2 L932.6,684.7 L933.4,683.2 L934.3,681.7 L935.1,680.1 L935.8,678.6 L936.5,677.2 L937.1,675.9 L937.7,674.7 L938.2,673.7 L938.6,672.9" fill="none" stroke="#a80000" stroke-width="1"/>
<g fill="#a80000"><circle cx="746.1" cy="716" r="4.9"/><circle cx="749.2" cy="710.3" r="4.9"/><circle cx="753.3" cy="705.3" r="4.9"/><circle cx="758.3" cy="701.2" r="4.9"/><circle cx="763.8" cy="697.6" r="4.9"/><circle cx="769.8" cy="695.3" r="4.9"/><circle cx="776.1" cy="693.7" r="4.9"/><circle cx="782.5" cy="692.4" r="4.9"/><circle cx="788.9" cy="691.6" r="4.9"/><circle cx="795.4" cy="691.2" r="4.9"/><circle cx="799.7" cy="691" r="4.9"/><circle cx="806" cy="691.5" r="4.9"/><circle cx="809" cy="692" r="4.9"/><circle cx="811.9" cy="692.5" r="4.9"/><circle cx="814.9" cy="693" r="4.9"/><circle cx="817.8" cy="693.5" r="4.9"/><circle cx="820.8" cy="694" r="4.9"/><circle cx="823.8" cy="694.5" r="4.9"/><circle cx="826.7" cy="695" r="4.9"/><circle cx="829.7" cy="695.5" r="4.9"/><circle cx="832.6" cy="696" r="4.9"/><circle cx="835.6" cy="696.5" r="4.9"/><circle cx="838.5" cy="696.9" r="4.9"/><circle cx="841.5" cy="697.4" r="4.9"/><circle cx="844.5" cy="697.9" r="4.9"/><circle cx="847.4" cy="698.4" r="4.9"/><circle cx="850.4" cy="698.9" r="4.9"/><circle cx="853.3" cy="699.4" r="4.9"/><circle cx="856.3" cy="699.9" r="4.9"/><circle cx="859.3" cy="700.3" r="4.9"/><circle cx="862.2" cy="700.8" r="4.9"/><circle cx="865.2" cy="701.3" r="4.9"/><circle cx="868.2" cy="701.8" r="4.9"/><circle cx="871.1" cy="702.3" r="4.9"/><circle cx="874.1" cy="702.8" r="4.9"/><circle cx="877" cy="703.2" r="4.9"/><circle cx="880" cy="703.7" r="4.9"/><circle cx="883" cy="704.2" r="4.9"/><circle cx="885.9" cy="704.8" r="4.9"/><circle cx="888.8" cy="705.4" r="4.9"/><circle cx="891.8" cy="706" r="4.9"/><circle cx="894.7" cy="706.5" r="4.9"/><circle cx="897.7" cy="706.8" r="4.9"/><circle cx="900.7" cy="706.6" r="4.9"/><circle cx="903.7" cy="706.1" r="4.9"/><circle cx="906.5" cy="705.1" r="4.9"/><circle cx="909.2" cy="703.9" r="4.9"/><circle cx="911.9" cy="702.4" r="4.9"/><circle cx="914.4" cy="700.9" r="4.9"/><circle cx="917" cy="699.3" r="4.9"/><circle cx="919.5" cy="697.7" r="4.9"/><circle cx="921.9" cy="695.9" r="4.9"/><circle cx="924.3" cy="694" r="4.9"/><circle cx="926.5" cy="692.1" r="4.9"/><circle cx="928.7" cy="690" r="4.9"/><circle cx="930.6" cy="687.7" r="4.9"/><circle cx="932.3" cy="685.2" r="4.9"/><circle cx="933.8" cy="682.6" r="4.9"/><circle cx="935.2" cy="679.9" r="4.9"/><circle cx="936.5" cy="677.2" r="4.9"/><circle cx="937.8" cy="674.5" r="4.9"/><circle cx="938.6" cy="672.9" r="4.9"/></g>
<path d="M728.4,734.8 L728.6,734.7 L728.9,734.5 L729.2,734.3 L729.6,734 L730,733.8 L730.4,733.5 L730.9,733.2 L731.3,732.9 L731.8,732.7 L732.2,732.4 L732.6,732.2 L733,732 L733.4,731.8 L733.8,731.6 L734.2,731.5 L734.6,731.3 L735,731.2 L735.4,731 L735.8,730.9 L736.2,730.8 L736.5,730.7 L736.8,730.6 L737.1,730.5 L737.3,730.4 L766,718.3 L766.6,718.2 L767.4,718 L768.3,717.9 L769.4,717.7 L770.5,717.4 L771.7,717.2 L772.9,717 L774.1,716.8 L775.4,716.5 L776.7,716.3 L777.9,716.2 L779,716 L780.1,715.9 L781.2,715.7 L782.4,715.6 L783.5,715.5 L784.6,715.4 L785.8,715.3 L786.9,715.2 L788.1,715.1 L789.2,715 L790.3,715 L791.4,715 L792.5,715 L793.6,715 L794.8,715.1 L796,715.2 L797.2,715.4 L798.4,715.5 L799.6,715.7 L800.7,715.9 L801.8,716 L802.8,716.2 L803.7,716.3 L804.4,716.4 L805,716.5 L812,718 L812.6,718.2 L813.3,718.4 L814,718.6 L814.8,718.8 L815.7,719.1 L816.7,719.4 L817.9,719.7 L819.1,720 L820.5,720.4 L822,720.8 L823.7,721.2 L825.6,721.6 L827.7,722.1 L830.2,722.6 L833,723.1 L835.9,723.7 L839,724.4 L842.2,725 L845.3,725.6 L848.4,726.2 L851.4,726.8 L854.1,727.3 L856.6,727.8 L858.7,728.2 L860.5,728.6 L862.1,728.9 L863.5,729.2 L864.8,729.4 L865.9,729.7 L866.9,729.9 L867.8,730.1 L868.7,730.2 L869.5,730.3 L870.3,730.4 L871.1,730.4 L872,730.4 L872.8,730.4 L873.5,730.3 L874.1,730.3 L874.6,730.2 L875.1,730.1 L875.6,729.9 L876.1,729.7 L876.6,729.4 L877.3,729 L878,728.6 L878.9,728.1 L880,727.5 L881.3,726.8 L882.7,725.9 L884.4,724.9 L886.1,723.8 L888,722.6 L889.8,721.4 L891.7,720.2 L893.6,719 L895.3,717.8 L897,716.6 L898.6,715.6 L899.9,714.6 L901.1,713.7 L902.2,712.9 L903.2,712.2 L904.1,711.5 L904.9,710.8 L905.7,710.1 L906.5,709.4 L907.2,708.7 L907.8,708 L908.5,707.3 L909.1,706.5 L909.8,705.7 L910.4,704.8 L911,703.8 L911.6,702.8 L912.1,701.8 L912.6,700.7 L913,699.6 L913.5,698.6 L913.9,697.5 L914.4,696.5 L914.8,695.5 L915.3,694.6 L915.8,693.7 L916.3,692.9 L916.9,692.1 L917.4,691.3 L918,690.5 L918.6,689.7 L919.2,689 L919.7,688.3 L920.2,687.7 L920.7,687.1 L921.1,686.6 L921.5,686.2 L921.8,685.8 L930,677.5 L938.6,669.9 L938.2,662.9" fill="none" stroke="#ff0000" stroke-width="1"/>
<g fill="#ff0000"><circle cx="728.4" cy="734.8" r="4.9"/><circle cx="730.9" cy="733.2" r="4.9"/><circle cx="733.6" cy="731.7" r="4.9"/><circle cx="736.4" cy="730.7" r="4.9"/><circle cx="766" cy="718.3" r="4.9"/><circle cx="772.4" cy="717.1" r="4.9"/><circle cx="778.8" cy="716" r="4.9"/><circle cx="785.3" cy="715.3" r="4.9"/><circle cx="791.7" cy="715" r="4.9"/><circle cx="798.2" cy="715.5" r="4.9"/><circle cx="804.7" cy="716.5" r="4.9"/><circle cx="812" cy="718" r="4.9"/><circle cx="814.9" cy="718.8" r="4.9"/><circle cx="817.8" cy="719.7" r="4.9"/><circle cx="820.7" cy="720.4" r="4.9"/><circle cx="823.6" cy="721.1" r="4.9"/><circle cx="826.5" cy="721.8" r="4.9"/><circle cx="829.4" cy="722.4" r="4.9"/><circle cx="832.4" cy="723" r="4.9"/><circle cx="835.3" cy="723.6" r="4.9"/><circle cx="838.3" cy="724.2" r="4.9"/><circle cx="841.2" cy="724.8" r="4.9"/><circle cx="844.1" cy="725.4" r="4.9"/><circle cx="847.1" cy="726" r="4.9"/><circle cx="850" cy="726.5" r="4.9"/><circle cx="853" cy="727.1" r="4.9"/><circle cx="855.9" cy="727.7" r="4.9"/><circle cx="858.9" cy="728.2" r="4.9"/><circle cx="861.8" cy="728.8" r="4.9"/><circle cx="864.7" cy="729.4" r="4.9"/><circle cx="867.7" cy="730" r="4.9"/><circle cx="870.7" cy="730.4" r="4.9"/><circle cx="873.7" cy="730.3" r="4.9"/><circle cx="876.5" cy="729.5" r="4.9"/><circle cx="879.1" cy="728" r="4.9"/><circle cx="881.7" cy="726.5" r="4.9"/><circle cx="884.3" cy="724.9" r="4.9"/><circle cx="886.8" cy="723.3" r="4.9"/><circle cx="889.4" cy="721.7" r="4.9"/><circle cx="891.9" cy="720.1" r="4.9"/><circle cx="894.4" cy="718.4" r="4.9"/><circle cx="896.9" cy="716.7" r="4.9"/><circle cx="899.3" cy="715" r="4.9"/><circle cx="901.7" cy="713.2" r="4.9"/><circle cx="904.1" cy="711.4" r="4.9"/><circle cx="906.4" cy="709.5" r="4.9"/><circle cx="908.5" cy="707.3" r="4.9"/><circle cx="910.3" cy="705" r="4.9"/><circle cx="911.8" cy="702.4" r="4.9"/><circle cx="913" cy="699.6" r="4.9"/><circle cx="914.2" cy="696.9" r="4.9"/><circle cx="915.5" cy="694.2" r="4.9"/><circle cx="917.2" cy="691.6" r="4.9"/><circle cx="919" cy="689.3" r="4.9"/><circle cx="920.9" cy="686.9" r="4.9"/><circle cx="921.8" cy="685.8" r="4.9"/><circle cx="930" cy="677.5" r="4.9"/><circle cx="938.6" cy="669.9" r="4.9"/><circle cx="938.2" cy="662.9" r="4.9"/></g>
</svg>
</body></html>
